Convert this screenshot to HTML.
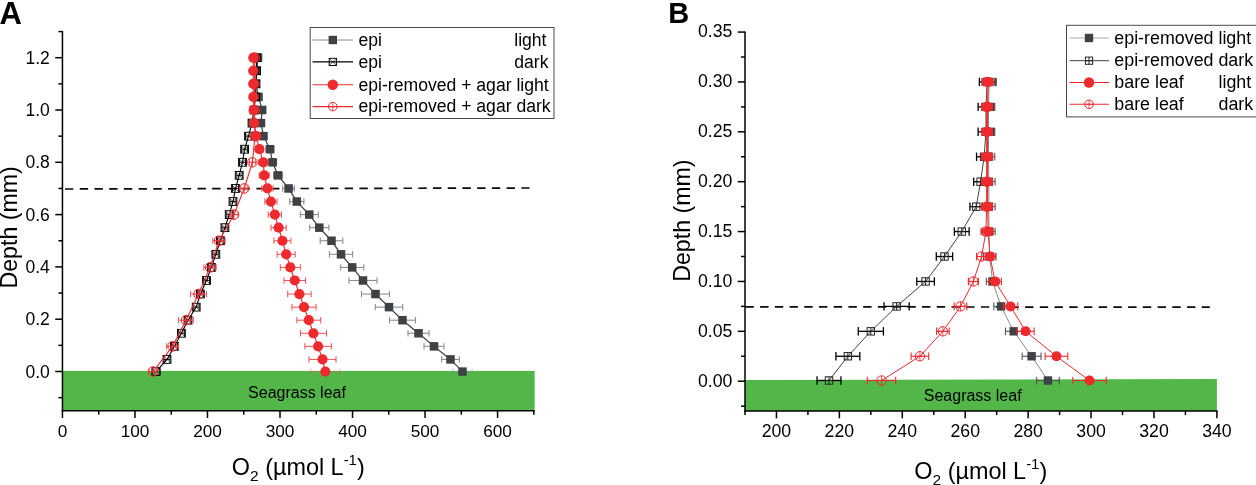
<!DOCTYPE html>
<html><head><meta charset="utf-8"><title>Figure</title>
<style>
html,body{margin:0;padding:0;background:#fff;}
body{width:1256px;height:485px;overflow:hidden;font-family:"Liberation Sans",sans-serif;}
svg{display:block;filter:blur(0.45px);}
</style></head><body>
<svg width="1256" height="485" viewBox="0 0 1256 485">
<rect x="0" y="0" width="1256" height="485" fill="#fff"/>
<rect x="62.45" y="370.90" width="472.18" height="39.83" fill="#52b648"/>
<text x="297.00" y="398.00" font-size="16" text-anchor="middle" font-weight="normal" fill="#000" font-family="Liberation Sans, sans-serif" >Seagrass leaf</text>
<line x1="65.00" y1="189.00" x2="529.60" y2="188.00" stroke="#0a0a0a" stroke-width="1.7" stroke-dasharray="8.4,6.32"/>
<line x1="452.80" y1="371.60" x2="472.20" y2="371.60" stroke="#8c8e90" stroke-width="1.1" opacity="0.45"/>
<line x1="452.80" y1="368.40" x2="452.80" y2="374.80" stroke="#8c8e90" stroke-width="1.1" opacity="0.45"/>
<line x1="472.20" y1="368.40" x2="472.20" y2="374.80" stroke="#8c8e90" stroke-width="1.1" opacity="0.45"/>
<line x1="441.60" y1="359.43" x2="459.40" y2="359.43" stroke="#8c8e90" stroke-width="1.1" />
<line x1="441.60" y1="356.23" x2="441.60" y2="362.62" stroke="#8c8e90" stroke-width="1.1" />
<line x1="459.40" y1="356.23" x2="459.40" y2="362.62" stroke="#8c8e90" stroke-width="1.1" />
<line x1="424.00" y1="346.35" x2="444.00" y2="346.35" stroke="#8c8e90" stroke-width="1.1" />
<line x1="424.00" y1="343.15" x2="424.00" y2="349.55" stroke="#8c8e90" stroke-width="1.1" />
<line x1="444.00" y1="343.15" x2="444.00" y2="349.55" stroke="#8c8e90" stroke-width="1.1" />
<line x1="408.00" y1="333.27" x2="429.00" y2="333.27" stroke="#8c8e90" stroke-width="1.1" />
<line x1="408.00" y1="330.07" x2="408.00" y2="336.47" stroke="#8c8e90" stroke-width="1.1" />
<line x1="429.00" y1="330.07" x2="429.00" y2="336.47" stroke="#8c8e90" stroke-width="1.1" />
<line x1="389.50" y1="320.20" x2="415.50" y2="320.20" stroke="#8c8e90" stroke-width="1.1" />
<line x1="389.50" y1="317.00" x2="389.50" y2="323.40" stroke="#8c8e90" stroke-width="1.1" />
<line x1="415.50" y1="317.00" x2="415.50" y2="323.40" stroke="#8c8e90" stroke-width="1.1" />
<line x1="375.30" y1="307.12" x2="402.70" y2="307.12" stroke="#8c8e90" stroke-width="1.1" />
<line x1="375.30" y1="303.93" x2="375.30" y2="310.32" stroke="#8c8e90" stroke-width="1.1" />
<line x1="402.70" y1="303.93" x2="402.70" y2="310.32" stroke="#8c8e90" stroke-width="1.1" />
<line x1="361.50" y1="294.05" x2="389.50" y2="294.05" stroke="#8c8e90" stroke-width="1.1" />
<line x1="361.50" y1="290.85" x2="361.50" y2="297.25" stroke="#8c8e90" stroke-width="1.1" />
<line x1="389.50" y1="290.85" x2="389.50" y2="297.25" stroke="#8c8e90" stroke-width="1.1" />
<line x1="349.00" y1="280.48" x2="377.00" y2="280.48" stroke="#8c8e90" stroke-width="1.1" />
<line x1="349.00" y1="277.28" x2="349.00" y2="283.68" stroke="#8c8e90" stroke-width="1.1" />
<line x1="377.00" y1="277.28" x2="377.00" y2="283.68" stroke="#8c8e90" stroke-width="1.1" />
<line x1="340.60" y1="267.40" x2="363.80" y2="267.40" stroke="#8c8e90" stroke-width="1.1" />
<line x1="340.60" y1="264.20" x2="340.60" y2="270.60" stroke="#8c8e90" stroke-width="1.1" />
<line x1="363.80" y1="264.20" x2="363.80" y2="270.60" stroke="#8c8e90" stroke-width="1.1" />
<line x1="329.40" y1="254.32" x2="352.60" y2="254.32" stroke="#8c8e90" stroke-width="1.1" />
<line x1="329.40" y1="251.12" x2="329.40" y2="257.52" stroke="#8c8e90" stroke-width="1.1" />
<line x1="352.60" y1="251.12" x2="352.60" y2="257.52" stroke="#8c8e90" stroke-width="1.1" />
<line x1="320.20" y1="240.75" x2="342.80" y2="240.75" stroke="#8c8e90" stroke-width="1.1" />
<line x1="320.20" y1="237.55" x2="320.20" y2="243.95" stroke="#8c8e90" stroke-width="1.1" />
<line x1="342.80" y1="237.55" x2="342.80" y2="243.95" stroke="#8c8e90" stroke-width="1.1" />
<line x1="309.70" y1="227.67" x2="328.90" y2="227.67" stroke="#8c8e90" stroke-width="1.1" />
<line x1="309.70" y1="224.47" x2="309.70" y2="230.87" stroke="#8c8e90" stroke-width="1.1" />
<line x1="328.90" y1="224.47" x2="328.90" y2="230.87" stroke="#8c8e90" stroke-width="1.1" />
<line x1="300.30" y1="214.60" x2="318.30" y2="214.60" stroke="#8c8e90" stroke-width="1.1" />
<line x1="300.30" y1="211.40" x2="300.30" y2="217.80" stroke="#8c8e90" stroke-width="1.1" />
<line x1="318.30" y1="211.40" x2="318.30" y2="217.80" stroke="#8c8e90" stroke-width="1.1" />
<line x1="289.70" y1="201.53" x2="303.90" y2="201.53" stroke="#8c8e90" stroke-width="1.1" />
<line x1="289.70" y1="198.33" x2="289.70" y2="204.72" stroke="#8c8e90" stroke-width="1.1" />
<line x1="303.90" y1="198.33" x2="303.90" y2="204.72" stroke="#8c8e90" stroke-width="1.1" />
<line x1="282.70" y1="188.45" x2="294.50" y2="188.45" stroke="#8c8e90" stroke-width="1.1" />
<line x1="282.70" y1="185.25" x2="282.70" y2="191.65" stroke="#8c8e90" stroke-width="1.1" />
<line x1="294.50" y1="185.25" x2="294.50" y2="191.65" stroke="#8c8e90" stroke-width="1.1" />
<line x1="273.50" y1="175.38" x2="282.50" y2="175.38" stroke="#8c8e90" stroke-width="1.1" />
<line x1="273.50" y1="172.18" x2="273.50" y2="178.57" stroke="#8c8e90" stroke-width="1.1" />
<line x1="282.50" y1="172.18" x2="282.50" y2="178.57" stroke="#8c8e90" stroke-width="1.1" />
<line x1="268.60" y1="162.30" x2="276.60" y2="162.30" stroke="#8c8e90" stroke-width="1.1" />
<line x1="268.60" y1="159.10" x2="268.60" y2="165.50" stroke="#8c8e90" stroke-width="1.1" />
<line x1="276.60" y1="159.10" x2="276.60" y2="165.50" stroke="#8c8e90" stroke-width="1.1" />
<line x1="266.00" y1="149.22" x2="274.00" y2="149.22" stroke="#8c8e90" stroke-width="1.1" />
<line x1="266.00" y1="146.02" x2="266.00" y2="152.42" stroke="#8c8e90" stroke-width="1.1" />
<line x1="274.00" y1="146.02" x2="274.00" y2="152.42" stroke="#8c8e90" stroke-width="1.1" />
<line x1="260.50" y1="136.15" x2="266.50" y2="136.15" stroke="#8c8e90" stroke-width="1.1" />
<line x1="260.50" y1="132.95" x2="260.50" y2="139.35" stroke="#8c8e90" stroke-width="1.1" />
<line x1="266.50" y1="132.95" x2="266.50" y2="139.35" stroke="#8c8e90" stroke-width="1.1" />
<line x1="258.00" y1="123.07" x2="264.00" y2="123.07" stroke="#8c8e90" stroke-width="1.1" />
<line x1="258.00" y1="119.87" x2="258.00" y2="126.27" stroke="#8c8e90" stroke-width="1.1" />
<line x1="264.00" y1="119.87" x2="264.00" y2="126.27" stroke="#8c8e90" stroke-width="1.1" />
<line x1="259.20" y1="110.00" x2="265.20" y2="110.00" stroke="#8c8e90" stroke-width="1.1" />
<line x1="259.20" y1="106.80" x2="259.20" y2="113.20" stroke="#8c8e90" stroke-width="1.1" />
<line x1="265.20" y1="106.80" x2="265.20" y2="113.20" stroke="#8c8e90" stroke-width="1.1" />
<line x1="256.50" y1="96.93" x2="260.50" y2="96.93" stroke="#8c8e90" stroke-width="1.1" />
<line x1="256.50" y1="93.73" x2="256.50" y2="100.13" stroke="#8c8e90" stroke-width="1.1" />
<line x1="260.50" y1="93.73" x2="260.50" y2="100.13" stroke="#8c8e90" stroke-width="1.1" />
<line x1="253.80" y1="83.85" x2="257.80" y2="83.85" stroke="#8c8e90" stroke-width="1.1" />
<line x1="253.80" y1="80.65" x2="253.80" y2="87.05" stroke="#8c8e90" stroke-width="1.1" />
<line x1="257.80" y1="80.65" x2="257.80" y2="87.05" stroke="#8c8e90" stroke-width="1.1" />
<line x1="254.60" y1="70.77" x2="258.60" y2="70.77" stroke="#8c8e90" stroke-width="1.1" />
<line x1="254.60" y1="67.57" x2="254.60" y2="73.97" stroke="#8c8e90" stroke-width="1.1" />
<line x1="258.60" y1="67.57" x2="258.60" y2="73.97" stroke="#8c8e90" stroke-width="1.1" />
<line x1="256.00" y1="57.70" x2="260.00" y2="57.70" stroke="#8c8e90" stroke-width="1.1" />
<line x1="256.00" y1="54.50" x2="256.00" y2="60.90" stroke="#8c8e90" stroke-width="1.1" />
<line x1="260.00" y1="54.50" x2="260.00" y2="60.90" stroke="#8c8e90" stroke-width="1.1" />
<polyline points="462.50,371.60 450.50,359.43 434.00,346.35 418.50,333.27 402.50,320.20 389.00,307.12 375.50,294.05 363.00,280.48 352.20,267.40 341.00,254.32 331.50,240.75 319.30,227.67 309.30,214.60 296.80,201.53 288.60,188.45 278.00,175.38 272.60,162.30 270.00,149.22 263.50,136.15 261.00,123.07 262.20,110.00 258.50,96.93 255.80,83.85 256.60,70.77 258.00,57.70" fill="none" stroke="#3a3a3a" stroke-width="1.2"/>
<rect x="458.25" y="367.35" width="8.5" height="8.5" fill="#3f4245"/>
<rect x="446.25" y="355.18" width="8.5" height="8.5" fill="#3f4245"/>
<rect x="429.75" y="342.10" width="8.5" height="8.5" fill="#3f4245"/>
<rect x="414.25" y="329.02" width="8.5" height="8.5" fill="#3f4245"/>
<rect x="398.25" y="315.95" width="8.5" height="8.5" fill="#3f4245"/>
<rect x="384.75" y="302.88" width="8.5" height="8.5" fill="#3f4245"/>
<rect x="371.25" y="289.80" width="8.5" height="8.5" fill="#3f4245"/>
<rect x="358.75" y="276.23" width="8.5" height="8.5" fill="#3f4245"/>
<rect x="347.95" y="263.15" width="8.5" height="8.5" fill="#3f4245"/>
<rect x="336.75" y="250.07" width="8.5" height="8.5" fill="#3f4245"/>
<rect x="327.25" y="236.50" width="8.5" height="8.5" fill="#3f4245"/>
<rect x="315.05" y="223.42" width="8.5" height="8.5" fill="#3f4245"/>
<rect x="305.05" y="210.35" width="8.5" height="8.5" fill="#3f4245"/>
<rect x="292.55" y="197.28" width="8.5" height="8.5" fill="#3f4245"/>
<rect x="284.35" y="184.20" width="8.5" height="8.5" fill="#3f4245"/>
<rect x="273.75" y="171.12" width="8.5" height="8.5" fill="#3f4245"/>
<rect x="268.35" y="158.05" width="8.5" height="8.5" fill="#3f4245"/>
<rect x="265.75" y="144.97" width="8.5" height="8.5" fill="#3f4245"/>
<rect x="259.25" y="131.90" width="8.5" height="8.5" fill="#3f4245"/>
<rect x="256.75" y="118.82" width="8.5" height="8.5" fill="#3f4245"/>
<rect x="257.95" y="105.75" width="8.5" height="8.5" fill="#3f4245"/>
<rect x="254.25" y="92.68" width="8.5" height="8.5" fill="#3f4245"/>
<rect x="251.55" y="79.60" width="8.5" height="8.5" fill="#3f4245"/>
<rect x="252.35" y="66.52" width="8.5" height="8.5" fill="#3f4245"/>
<rect x="253.75" y="53.45" width="8.5" height="8.5" fill="#3f4245"/>
<line x1="152.00" y1="371.60" x2="160.00" y2="371.60" stroke="#111" stroke-width="1" />
<line x1="152.00" y1="368.40" x2="152.00" y2="374.80" stroke="#111" stroke-width="1" />
<line x1="160.00" y1="368.40" x2="160.00" y2="374.80" stroke="#111" stroke-width="1" />
<line x1="164.00" y1="359.43" x2="170.00" y2="359.43" stroke="#111" stroke-width="1" />
<line x1="164.00" y1="356.23" x2="164.00" y2="362.62" stroke="#111" stroke-width="1" />
<line x1="170.00" y1="356.23" x2="170.00" y2="362.62" stroke="#111" stroke-width="1" />
<line x1="171.50" y1="346.35" x2="177.50" y2="346.35" stroke="#111" stroke-width="1" />
<line x1="171.50" y1="343.15" x2="171.50" y2="349.55" stroke="#111" stroke-width="1" />
<line x1="177.50" y1="343.15" x2="177.50" y2="349.55" stroke="#111" stroke-width="1" />
<line x1="178.40" y1="333.27" x2="184.40" y2="333.27" stroke="#111" stroke-width="1" />
<line x1="178.40" y1="330.07" x2="178.40" y2="336.47" stroke="#111" stroke-width="1" />
<line x1="184.40" y1="330.07" x2="184.40" y2="336.47" stroke="#111" stroke-width="1" />
<line x1="185.00" y1="320.20" x2="191.00" y2="320.20" stroke="#111" stroke-width="1" />
<line x1="185.00" y1="317.00" x2="185.00" y2="323.40" stroke="#111" stroke-width="1" />
<line x1="191.00" y1="317.00" x2="191.00" y2="323.40" stroke="#111" stroke-width="1" />
<line x1="193.20" y1="307.12" x2="199.20" y2="307.12" stroke="#111" stroke-width="1" />
<line x1="193.20" y1="303.93" x2="193.20" y2="310.32" stroke="#111" stroke-width="1" />
<line x1="199.20" y1="303.93" x2="199.20" y2="310.32" stroke="#111" stroke-width="1" />
<line x1="197.40" y1="294.05" x2="203.40" y2="294.05" stroke="#111" stroke-width="1" />
<line x1="197.40" y1="290.85" x2="197.40" y2="297.25" stroke="#111" stroke-width="1" />
<line x1="203.40" y1="290.85" x2="203.40" y2="297.25" stroke="#111" stroke-width="1" />
<line x1="203.50" y1="280.48" x2="209.50" y2="280.48" stroke="#111" stroke-width="1" />
<line x1="203.50" y1="277.28" x2="203.50" y2="283.68" stroke="#111" stroke-width="1" />
<line x1="209.50" y1="277.28" x2="209.50" y2="283.68" stroke="#111" stroke-width="1" />
<line x1="208.30" y1="267.40" x2="214.30" y2="267.40" stroke="#111" stroke-width="1" />
<line x1="208.30" y1="264.20" x2="208.30" y2="270.60" stroke="#111" stroke-width="1" />
<line x1="214.30" y1="264.20" x2="214.30" y2="270.60" stroke="#111" stroke-width="1" />
<line x1="212.80" y1="254.32" x2="218.80" y2="254.32" stroke="#111" stroke-width="1" />
<line x1="212.80" y1="251.12" x2="212.80" y2="257.52" stroke="#111" stroke-width="1" />
<line x1="218.80" y1="251.12" x2="218.80" y2="257.52" stroke="#111" stroke-width="1" />
<line x1="217.40" y1="240.75" x2="223.40" y2="240.75" stroke="#111" stroke-width="1" />
<line x1="217.40" y1="237.55" x2="217.40" y2="243.95" stroke="#111" stroke-width="1" />
<line x1="223.40" y1="237.55" x2="223.40" y2="243.95" stroke="#111" stroke-width="1" />
<line x1="221.90" y1="227.67" x2="227.90" y2="227.67" stroke="#111" stroke-width="1" />
<line x1="221.90" y1="224.47" x2="221.90" y2="230.87" stroke="#111" stroke-width="1" />
<line x1="227.90" y1="224.47" x2="227.90" y2="230.87" stroke="#111" stroke-width="1" />
<line x1="226.20" y1="214.60" x2="232.20" y2="214.60" stroke="#111" stroke-width="1" />
<line x1="226.20" y1="211.40" x2="226.20" y2="217.80" stroke="#111" stroke-width="1" />
<line x1="232.20" y1="211.40" x2="232.20" y2="217.80" stroke="#111" stroke-width="1" />
<line x1="230.00" y1="201.53" x2="236.00" y2="201.53" stroke="#111" stroke-width="1" />
<line x1="230.00" y1="198.33" x2="230.00" y2="204.72" stroke="#111" stroke-width="1" />
<line x1="236.00" y1="198.33" x2="236.00" y2="204.72" stroke="#111" stroke-width="1" />
<line x1="232.50" y1="188.45" x2="238.50" y2="188.45" stroke="#111" stroke-width="1" />
<line x1="232.50" y1="185.25" x2="232.50" y2="191.65" stroke="#111" stroke-width="1" />
<line x1="238.50" y1="185.25" x2="238.50" y2="191.65" stroke="#111" stroke-width="1" />
<line x1="236.20" y1="175.38" x2="242.20" y2="175.38" stroke="#111" stroke-width="1" />
<line x1="236.20" y1="172.18" x2="236.20" y2="178.57" stroke="#111" stroke-width="1" />
<line x1="242.20" y1="172.18" x2="242.20" y2="178.57" stroke="#111" stroke-width="1" />
<line x1="239.50" y1="162.30" x2="245.50" y2="162.30" stroke="#111" stroke-width="1" />
<line x1="239.50" y1="159.10" x2="239.50" y2="165.50" stroke="#111" stroke-width="1" />
<line x1="245.50" y1="159.10" x2="245.50" y2="165.50" stroke="#111" stroke-width="1" />
<line x1="241.60" y1="149.22" x2="247.60" y2="149.22" stroke="#111" stroke-width="1" />
<line x1="241.60" y1="146.02" x2="241.60" y2="152.42" stroke="#111" stroke-width="1" />
<line x1="247.60" y1="146.02" x2="247.60" y2="152.42" stroke="#111" stroke-width="1" />
<line x1="245.50" y1="136.15" x2="251.50" y2="136.15" stroke="#111" stroke-width="1" />
<line x1="245.50" y1="132.95" x2="245.50" y2="139.35" stroke="#111" stroke-width="1" />
<line x1="251.50" y1="132.95" x2="251.50" y2="139.35" stroke="#111" stroke-width="1" />
<line x1="249.00" y1="123.07" x2="255.00" y2="123.07" stroke="#111" stroke-width="1" />
<line x1="249.00" y1="119.87" x2="249.00" y2="126.27" stroke="#111" stroke-width="1" />
<line x1="255.00" y1="119.87" x2="255.00" y2="126.27" stroke="#111" stroke-width="1" />
<line x1="251.00" y1="110.00" x2="257.00" y2="110.00" stroke="#111" stroke-width="1" />
<line x1="251.00" y1="106.80" x2="251.00" y2="113.20" stroke="#111" stroke-width="1" />
<line x1="257.00" y1="106.80" x2="257.00" y2="113.20" stroke="#111" stroke-width="1" />
<line x1="253.50" y1="96.93" x2="257.50" y2="96.93" stroke="#111" stroke-width="1" />
<line x1="253.50" y1="93.73" x2="253.50" y2="100.13" stroke="#111" stroke-width="1" />
<line x1="257.50" y1="93.73" x2="257.50" y2="100.13" stroke="#111" stroke-width="1" />
<line x1="254.00" y1="83.85" x2="258.00" y2="83.85" stroke="#111" stroke-width="1" />
<line x1="254.00" y1="80.65" x2="254.00" y2="87.05" stroke="#111" stroke-width="1" />
<line x1="258.00" y1="80.65" x2="258.00" y2="87.05" stroke="#111" stroke-width="1" />
<line x1="254.50" y1="70.77" x2="258.50" y2="70.77" stroke="#111" stroke-width="1" />
<line x1="254.50" y1="67.57" x2="254.50" y2="73.97" stroke="#111" stroke-width="1" />
<line x1="258.50" y1="67.57" x2="258.50" y2="73.97" stroke="#111" stroke-width="1" />
<line x1="254.50" y1="57.70" x2="258.50" y2="57.70" stroke="#111" stroke-width="1" />
<line x1="254.50" y1="54.50" x2="254.50" y2="60.90" stroke="#111" stroke-width="1" />
<line x1="258.50" y1="54.50" x2="258.50" y2="60.90" stroke="#111" stroke-width="1" />
<polyline points="156.00,371.60 167.00,359.43 174.50,346.35 181.40,333.27 188.00,320.20 196.20,307.12 200.40,294.05 206.50,280.48 211.30,267.40 215.80,254.32 220.40,240.75 224.90,227.67 229.20,214.60 233.00,201.53 235.50,188.45 239.20,175.38 242.50,162.30 244.60,149.22 248.50,136.15 252.00,123.07 254.00,110.00 255.50,96.93 256.00,83.85 256.50,70.77 256.50,57.70" fill="none" stroke="#000" stroke-width="1.1"/>
<g opacity="1"><rect x="152.10" y="367.70" width="7.8" height="7.8" fill="none" stroke="#000" stroke-width="0.95"/>
<line x1="152.10" y1="367.70" x2="159.90" y2="375.50" stroke="#000" stroke-width="0.6" />
<line x1="152.10" y1="375.50" x2="159.90" y2="367.70" stroke="#000" stroke-width="0.6" />
</g>
<g opacity="1"><rect x="163.10" y="355.53" width="7.8" height="7.8" fill="none" stroke="#000" stroke-width="0.95"/>
<line x1="163.10" y1="355.53" x2="170.90" y2="363.32" stroke="#000" stroke-width="0.6" />
<line x1="163.10" y1="363.32" x2="170.90" y2="355.53" stroke="#000" stroke-width="0.6" />
</g>
<g opacity="1"><rect x="170.60" y="342.45" width="7.8" height="7.8" fill="none" stroke="#000" stroke-width="0.95"/>
<line x1="170.60" y1="342.45" x2="178.40" y2="350.25" stroke="#000" stroke-width="0.6" />
<line x1="170.60" y1="350.25" x2="178.40" y2="342.45" stroke="#000" stroke-width="0.6" />
</g>
<g opacity="1"><rect x="177.50" y="329.38" width="7.8" height="7.8" fill="none" stroke="#000" stroke-width="0.95"/>
<line x1="177.50" y1="329.38" x2="185.30" y2="337.17" stroke="#000" stroke-width="0.6" />
<line x1="177.50" y1="337.17" x2="185.30" y2="329.38" stroke="#000" stroke-width="0.6" />
</g>
<g opacity="1"><rect x="184.10" y="316.30" width="7.8" height="7.8" fill="none" stroke="#000" stroke-width="0.95"/>
<line x1="184.10" y1="316.30" x2="191.90" y2="324.10" stroke="#000" stroke-width="0.6" />
<line x1="184.10" y1="324.10" x2="191.90" y2="316.30" stroke="#000" stroke-width="0.6" />
</g>
<g opacity="1"><rect x="192.30" y="303.23" width="7.8" height="7.8" fill="none" stroke="#000" stroke-width="0.95"/>
<line x1="192.30" y1="303.23" x2="200.10" y2="311.02" stroke="#000" stroke-width="0.6" />
<line x1="192.30" y1="311.02" x2="200.10" y2="303.23" stroke="#000" stroke-width="0.6" />
</g>
<g opacity="1"><rect x="196.50" y="290.15" width="7.8" height="7.8" fill="none" stroke="#000" stroke-width="0.95"/>
<line x1="196.50" y1="290.15" x2="204.30" y2="297.95" stroke="#000" stroke-width="0.6" />
<line x1="196.50" y1="297.95" x2="204.30" y2="290.15" stroke="#000" stroke-width="0.6" />
</g>
<g opacity="1"><rect x="202.60" y="276.58" width="7.8" height="7.8" fill="none" stroke="#000" stroke-width="0.95"/>
<line x1="202.60" y1="276.58" x2="210.40" y2="284.38" stroke="#000" stroke-width="0.6" />
<line x1="202.60" y1="284.38" x2="210.40" y2="276.58" stroke="#000" stroke-width="0.6" />
</g>
<g opacity="1"><rect x="207.40" y="263.50" width="7.8" height="7.8" fill="none" stroke="#000" stroke-width="0.95"/>
<line x1="207.40" y1="263.50" x2="215.20" y2="271.30" stroke="#000" stroke-width="0.6" />
<line x1="207.40" y1="271.30" x2="215.20" y2="263.50" stroke="#000" stroke-width="0.6" />
</g>
<g opacity="1"><rect x="211.90" y="250.42" width="7.8" height="7.8" fill="none" stroke="#000" stroke-width="0.95"/>
<line x1="211.90" y1="250.42" x2="219.70" y2="258.22" stroke="#000" stroke-width="0.6" />
<line x1="211.90" y1="258.22" x2="219.70" y2="250.42" stroke="#000" stroke-width="0.6" />
</g>
<g opacity="1"><rect x="216.50" y="236.85" width="7.8" height="7.8" fill="none" stroke="#000" stroke-width="0.95"/>
<line x1="216.50" y1="236.85" x2="224.30" y2="244.65" stroke="#000" stroke-width="0.6" />
<line x1="216.50" y1="244.65" x2="224.30" y2="236.85" stroke="#000" stroke-width="0.6" />
</g>
<g opacity="1"><rect x="221.00" y="223.77" width="7.8" height="7.8" fill="none" stroke="#000" stroke-width="0.95"/>
<line x1="221.00" y1="223.77" x2="228.80" y2="231.57" stroke="#000" stroke-width="0.6" />
<line x1="221.00" y1="231.57" x2="228.80" y2="223.77" stroke="#000" stroke-width="0.6" />
</g>
<g opacity="1"><rect x="225.30" y="210.70" width="7.8" height="7.8" fill="none" stroke="#000" stroke-width="0.95"/>
<line x1="225.30" y1="210.70" x2="233.10" y2="218.50" stroke="#000" stroke-width="0.6" />
<line x1="225.30" y1="218.50" x2="233.10" y2="210.70" stroke="#000" stroke-width="0.6" />
</g>
<g opacity="1"><rect x="229.10" y="197.62" width="7.8" height="7.8" fill="none" stroke="#000" stroke-width="0.95"/>
<line x1="229.10" y1="197.62" x2="236.90" y2="205.43" stroke="#000" stroke-width="0.6" />
<line x1="229.10" y1="205.43" x2="236.90" y2="197.62" stroke="#000" stroke-width="0.6" />
</g>
<g opacity="1"><rect x="231.60" y="184.55" width="7.8" height="7.8" fill="none" stroke="#000" stroke-width="0.95"/>
<line x1="231.60" y1="184.55" x2="239.40" y2="192.35" stroke="#000" stroke-width="0.6" />
<line x1="231.60" y1="192.35" x2="239.40" y2="184.55" stroke="#000" stroke-width="0.6" />
</g>
<g opacity="1"><rect x="235.30" y="171.47" width="7.8" height="7.8" fill="none" stroke="#000" stroke-width="0.95"/>
<line x1="235.30" y1="171.47" x2="243.10" y2="179.28" stroke="#000" stroke-width="0.6" />
<line x1="235.30" y1="179.28" x2="243.10" y2="171.47" stroke="#000" stroke-width="0.6" />
</g>
<g opacity="1"><rect x="238.60" y="158.40" width="7.8" height="7.8" fill="none" stroke="#000" stroke-width="0.95"/>
<line x1="238.60" y1="158.40" x2="246.40" y2="166.20" stroke="#000" stroke-width="0.6" />
<line x1="238.60" y1="166.20" x2="246.40" y2="158.40" stroke="#000" stroke-width="0.6" />
</g>
<g opacity="1"><rect x="240.70" y="145.32" width="7.8" height="7.8" fill="none" stroke="#000" stroke-width="0.95"/>
<line x1="240.70" y1="145.32" x2="248.50" y2="153.12" stroke="#000" stroke-width="0.6" />
<line x1="240.70" y1="153.12" x2="248.50" y2="145.32" stroke="#000" stroke-width="0.6" />
</g>
<g opacity="1"><rect x="244.60" y="132.25" width="7.8" height="7.8" fill="none" stroke="#000" stroke-width="0.95"/>
<line x1="244.60" y1="132.25" x2="252.40" y2="140.05" stroke="#000" stroke-width="0.6" />
<line x1="244.60" y1="140.05" x2="252.40" y2="132.25" stroke="#000" stroke-width="0.6" />
</g>
<g opacity="1"><rect x="248.10" y="119.17" width="7.8" height="7.8" fill="none" stroke="#000" stroke-width="0.95"/>
<line x1="248.10" y1="119.17" x2="255.90" y2="126.97" stroke="#000" stroke-width="0.6" />
<line x1="248.10" y1="126.97" x2="255.90" y2="119.17" stroke="#000" stroke-width="0.6" />
</g>
<g opacity="1"><rect x="250.10" y="106.10" width="7.8" height="7.8" fill="none" stroke="#000" stroke-width="0.95"/>
<line x1="250.10" y1="106.10" x2="257.90" y2="113.90" stroke="#000" stroke-width="0.6" />
<line x1="250.10" y1="113.90" x2="257.90" y2="106.10" stroke="#000" stroke-width="0.6" />
</g>
<g opacity="1"><rect x="251.60" y="93.03" width="7.8" height="7.8" fill="none" stroke="#000" stroke-width="0.95"/>
<line x1="251.60" y1="93.03" x2="259.40" y2="100.83" stroke="#000" stroke-width="0.6" />
<line x1="251.60" y1="100.83" x2="259.40" y2="93.03" stroke="#000" stroke-width="0.6" />
</g>
<g opacity="1"><rect x="252.10" y="79.95" width="7.8" height="7.8" fill="none" stroke="#000" stroke-width="0.95"/>
<line x1="252.10" y1="79.95" x2="259.90" y2="87.75" stroke="#000" stroke-width="0.6" />
<line x1="252.10" y1="87.75" x2="259.90" y2="79.95" stroke="#000" stroke-width="0.6" />
</g>
<g opacity="1"><rect x="252.60" y="66.87" width="7.8" height="7.8" fill="none" stroke="#000" stroke-width="0.95"/>
<line x1="252.60" y1="66.87" x2="260.40" y2="74.67" stroke="#000" stroke-width="0.6" />
<line x1="252.60" y1="74.67" x2="260.40" y2="66.87" stroke="#000" stroke-width="0.6" />
</g>
<g opacity="1"><rect x="252.60" y="53.80" width="7.8" height="7.8" fill="none" stroke="#000" stroke-width="0.95"/>
<line x1="252.60" y1="53.80" x2="260.40" y2="61.60" stroke="#000" stroke-width="0.6" />
<line x1="252.60" y1="61.60" x2="260.40" y2="53.80" stroke="#000" stroke-width="0.6" />
</g>
<line x1="149.00" y1="371.60" x2="157.00" y2="371.60" stroke="#ef5a5e" stroke-width="1" />
<line x1="149.00" y1="368.40" x2="149.00" y2="374.80" stroke="#ef5a5e" stroke-width="1" />
<line x1="157.00" y1="368.40" x2="157.00" y2="374.80" stroke="#ef5a5e" stroke-width="1" />
<line x1="166.40" y1="346.35" x2="178.60" y2="346.35" stroke="#ef5a5e" stroke-width="1" />
<line x1="166.40" y1="343.15" x2="166.40" y2="349.55" stroke="#ef5a5e" stroke-width="1" />
<line x1="178.60" y1="343.15" x2="178.60" y2="349.55" stroke="#ef5a5e" stroke-width="1" />
<line x1="178.60" y1="320.20" x2="193.40" y2="320.20" stroke="#ef5a5e" stroke-width="1" />
<line x1="178.60" y1="317.00" x2="178.60" y2="323.40" stroke="#ef5a5e" stroke-width="1" />
<line x1="193.40" y1="317.00" x2="193.40" y2="323.40" stroke="#ef5a5e" stroke-width="1" />
<line x1="190.50" y1="294.05" x2="206.50" y2="294.05" stroke="#ef5a5e" stroke-width="1" />
<line x1="190.50" y1="290.85" x2="190.50" y2="297.25" stroke="#ef5a5e" stroke-width="1" />
<line x1="206.50" y1="290.85" x2="206.50" y2="297.25" stroke="#ef5a5e" stroke-width="1" />
<line x1="203.80" y1="267.40" x2="216.20" y2="267.40" stroke="#ef5a5e" stroke-width="1" />
<line x1="203.80" y1="264.20" x2="203.80" y2="270.60" stroke="#ef5a5e" stroke-width="1" />
<line x1="216.20" y1="264.20" x2="216.20" y2="270.60" stroke="#ef5a5e" stroke-width="1" />
<line x1="212.80" y1="240.75" x2="225.20" y2="240.75" stroke="#ef5a5e" stroke-width="1" />
<line x1="212.80" y1="237.55" x2="212.80" y2="243.95" stroke="#ef5a5e" stroke-width="1" />
<line x1="225.20" y1="237.55" x2="225.20" y2="243.95" stroke="#ef5a5e" stroke-width="1" />
<line x1="230.00" y1="214.60" x2="238.00" y2="214.60" stroke="#ef5a5e" stroke-width="1" />
<line x1="230.00" y1="211.40" x2="230.00" y2="217.80" stroke="#ef5a5e" stroke-width="1" />
<line x1="238.00" y1="211.40" x2="238.00" y2="217.80" stroke="#ef5a5e" stroke-width="1" />
<line x1="240.70" y1="188.45" x2="247.70" y2="188.45" stroke="#ef5a5e" stroke-width="1" />
<line x1="240.70" y1="185.25" x2="240.70" y2="191.65" stroke="#ef5a5e" stroke-width="1" />
<line x1="247.70" y1="185.25" x2="247.70" y2="191.65" stroke="#ef5a5e" stroke-width="1" />
<line x1="249.40" y1="162.30" x2="255.40" y2="162.30" stroke="#ef5a5e" stroke-width="1" />
<line x1="249.40" y1="159.10" x2="249.40" y2="165.50" stroke="#ef5a5e" stroke-width="1" />
<line x1="255.40" y1="159.10" x2="255.40" y2="165.50" stroke="#ef5a5e" stroke-width="1" />
<line x1="252.00" y1="136.15" x2="258.00" y2="136.15" stroke="#ef5a5e" stroke-width="1" />
<line x1="252.00" y1="132.95" x2="252.00" y2="139.35" stroke="#ef5a5e" stroke-width="1" />
<line x1="258.00" y1="132.95" x2="258.00" y2="139.35" stroke="#ef5a5e" stroke-width="1" />
<line x1="252.50" y1="110.00" x2="256.50" y2="110.00" stroke="#ef5a5e" stroke-width="1" />
<line x1="252.50" y1="106.80" x2="252.50" y2="113.20" stroke="#ef5a5e" stroke-width="1" />
<line x1="256.50" y1="106.80" x2="256.50" y2="113.20" stroke="#ef5a5e" stroke-width="1" />
<line x1="252.50" y1="83.85" x2="256.50" y2="83.85" stroke="#ef5a5e" stroke-width="1" />
<line x1="252.50" y1="80.65" x2="252.50" y2="87.05" stroke="#ef5a5e" stroke-width="1" />
<line x1="256.50" y1="80.65" x2="256.50" y2="87.05" stroke="#ef5a5e" stroke-width="1" />
<line x1="252.80" y1="57.70" x2="256.80" y2="57.70" stroke="#ef5a5e" stroke-width="1" />
<line x1="252.80" y1="54.50" x2="252.80" y2="60.90" stroke="#ef5a5e" stroke-width="1" />
<line x1="256.80" y1="54.50" x2="256.80" y2="60.90" stroke="#ef5a5e" stroke-width="1" />
<polyline points="153.00,371.60 172.50,346.35 186.00,320.20 198.50,294.05 210.00,267.40 219.00,240.75 234.00,214.60 244.20,188.45 252.40,162.30 255.00,136.15 254.50,110.00 254.50,83.85 254.80,57.70" fill="none" stroke="#ee2a2e" stroke-width="1.1"/>
<circle cx="153.00" cy="371.60" r="4.8" fill="none" stroke="#ee2a2e" stroke-width="1"/>
<line x1="148.20" y1="371.60" x2="157.80" y2="371.60" stroke="#ee2a2e" stroke-width="0.8" />
<line x1="153.00" y1="366.80" x2="153.00" y2="376.40" stroke="#ee2a2e" stroke-width="0.8" />
<circle cx="172.50" cy="346.35" r="4.8" fill="none" stroke="#ee2a2e" stroke-width="1"/>
<line x1="167.70" y1="346.35" x2="177.30" y2="346.35" stroke="#ee2a2e" stroke-width="0.8" />
<line x1="172.50" y1="341.55" x2="172.50" y2="351.15" stroke="#ee2a2e" stroke-width="0.8" />
<circle cx="186.00" cy="320.20" r="4.8" fill="none" stroke="#ee2a2e" stroke-width="1"/>
<line x1="181.20" y1="320.20" x2="190.80" y2="320.20" stroke="#ee2a2e" stroke-width="0.8" />
<line x1="186.00" y1="315.40" x2="186.00" y2="325.00" stroke="#ee2a2e" stroke-width="0.8" />
<circle cx="198.50" cy="294.05" r="4.8" fill="none" stroke="#ee2a2e" stroke-width="1"/>
<line x1="193.70" y1="294.05" x2="203.30" y2="294.05" stroke="#ee2a2e" stroke-width="0.8" />
<line x1="198.50" y1="289.25" x2="198.50" y2="298.85" stroke="#ee2a2e" stroke-width="0.8" />
<circle cx="210.00" cy="267.40" r="4.8" fill="none" stroke="#ee2a2e" stroke-width="1"/>
<line x1="205.20" y1="267.40" x2="214.80" y2="267.40" stroke="#ee2a2e" stroke-width="0.8" />
<line x1="210.00" y1="262.60" x2="210.00" y2="272.20" stroke="#ee2a2e" stroke-width="0.8" />
<circle cx="219.00" cy="240.75" r="4.8" fill="none" stroke="#ee2a2e" stroke-width="1"/>
<line x1="214.20" y1="240.75" x2="223.80" y2="240.75" stroke="#ee2a2e" stroke-width="0.8" />
<line x1="219.00" y1="235.95" x2="219.00" y2="245.55" stroke="#ee2a2e" stroke-width="0.8" />
<circle cx="234.00" cy="214.60" r="4.8" fill="none" stroke="#ee2a2e" stroke-width="1"/>
<line x1="229.20" y1="214.60" x2="238.80" y2="214.60" stroke="#ee2a2e" stroke-width="0.8" />
<line x1="234.00" y1="209.80" x2="234.00" y2="219.40" stroke="#ee2a2e" stroke-width="0.8" />
<circle cx="244.20" cy="188.45" r="4.8" fill="none" stroke="#ee2a2e" stroke-width="1"/>
<line x1="239.40" y1="188.45" x2="249.00" y2="188.45" stroke="#ee2a2e" stroke-width="0.8" />
<line x1="244.20" y1="183.65" x2="244.20" y2="193.25" stroke="#ee2a2e" stroke-width="0.8" />
<circle cx="252.40" cy="162.30" r="4.8" fill="none" stroke="#ee2a2e" stroke-width="1"/>
<line x1="247.60" y1="162.30" x2="257.20" y2="162.30" stroke="#ee2a2e" stroke-width="0.8" />
<line x1="252.40" y1="157.50" x2="252.40" y2="167.10" stroke="#ee2a2e" stroke-width="0.8" />
<circle cx="255.00" cy="136.15" r="4.8" fill="none" stroke="#ee2a2e" stroke-width="1"/>
<line x1="250.20" y1="136.15" x2="259.80" y2="136.15" stroke="#ee2a2e" stroke-width="0.8" />
<line x1="255.00" y1="131.35" x2="255.00" y2="140.95" stroke="#ee2a2e" stroke-width="0.8" />
<circle cx="254.50" cy="110.00" r="4.8" fill="none" stroke="#ee2a2e" stroke-width="1"/>
<line x1="249.70" y1="110.00" x2="259.30" y2="110.00" stroke="#ee2a2e" stroke-width="0.8" />
<line x1="254.50" y1="105.20" x2="254.50" y2="114.80" stroke="#ee2a2e" stroke-width="0.8" />
<circle cx="254.50" cy="83.85" r="4.8" fill="none" stroke="#ee2a2e" stroke-width="1"/>
<line x1="249.70" y1="83.85" x2="259.30" y2="83.85" stroke="#ee2a2e" stroke-width="0.8" />
<line x1="254.50" y1="79.05" x2="254.50" y2="88.65" stroke="#ee2a2e" stroke-width="0.8" />
<circle cx="254.80" cy="57.70" r="4.8" fill="none" stroke="#ee2a2e" stroke-width="1"/>
<line x1="250.00" y1="57.70" x2="259.60" y2="57.70" stroke="#ee2a2e" stroke-width="0.8" />
<line x1="254.80" y1="52.90" x2="254.80" y2="62.50" stroke="#ee2a2e" stroke-width="0.8" />
<line x1="310.80" y1="371.60" x2="339.80" y2="371.60" stroke="#ef4f53" stroke-width="1" opacity="0.4"/>
<line x1="310.80" y1="368.40" x2="310.80" y2="374.80" stroke="#ef4f53" stroke-width="1" opacity="0.4"/>
<line x1="339.80" y1="368.40" x2="339.80" y2="374.80" stroke="#ef4f53" stroke-width="1" opacity="0.4"/>
<line x1="309.00" y1="359.43" x2="336.00" y2="359.43" stroke="#ef4f53" stroke-width="1" />
<line x1="309.00" y1="356.23" x2="309.00" y2="362.62" stroke="#ef4f53" stroke-width="1" />
<line x1="336.00" y1="356.23" x2="336.00" y2="362.62" stroke="#ef4f53" stroke-width="1" />
<line x1="304.90" y1="346.35" x2="331.30" y2="346.35" stroke="#ef4f53" stroke-width="1" />
<line x1="304.90" y1="343.15" x2="304.90" y2="349.55" stroke="#ef4f53" stroke-width="1" />
<line x1="331.30" y1="343.15" x2="331.30" y2="349.55" stroke="#ef4f53" stroke-width="1" />
<line x1="300.40" y1="333.27" x2="326.40" y2="333.27" stroke="#ef4f53" stroke-width="1" />
<line x1="300.40" y1="330.07" x2="300.40" y2="336.47" stroke="#ef4f53" stroke-width="1" />
<line x1="326.40" y1="330.07" x2="326.40" y2="336.47" stroke="#ef4f53" stroke-width="1" />
<line x1="296.90" y1="320.20" x2="320.70" y2="320.20" stroke="#ef4f53" stroke-width="1" />
<line x1="296.90" y1="317.00" x2="296.90" y2="323.40" stroke="#ef4f53" stroke-width="1" />
<line x1="320.70" y1="317.00" x2="320.70" y2="323.40" stroke="#ef4f53" stroke-width="1" />
<line x1="291.90" y1="307.12" x2="316.10" y2="307.12" stroke="#ef4f53" stroke-width="1" />
<line x1="291.90" y1="303.93" x2="291.90" y2="310.32" stroke="#ef4f53" stroke-width="1" />
<line x1="316.10" y1="303.93" x2="316.10" y2="310.32" stroke="#ef4f53" stroke-width="1" />
<line x1="287.70" y1="294.05" x2="311.10" y2="294.05" stroke="#ef4f53" stroke-width="1" />
<line x1="287.70" y1="290.85" x2="287.70" y2="297.25" stroke="#ef4f53" stroke-width="1" />
<line x1="311.10" y1="290.85" x2="311.10" y2="297.25" stroke="#ef4f53" stroke-width="1" />
<line x1="284.00" y1="280.48" x2="305.60" y2="280.48" stroke="#ef4f53" stroke-width="1" />
<line x1="284.00" y1="277.28" x2="284.00" y2="283.68" stroke="#ef4f53" stroke-width="1" />
<line x1="305.60" y1="277.28" x2="305.60" y2="283.68" stroke="#ef4f53" stroke-width="1" />
<line x1="280.30" y1="267.40" x2="300.30" y2="267.40" stroke="#ef4f53" stroke-width="1" />
<line x1="280.30" y1="264.20" x2="280.30" y2="270.60" stroke="#ef4f53" stroke-width="1" />
<line x1="300.30" y1="264.20" x2="300.30" y2="270.60" stroke="#ef4f53" stroke-width="1" />
<line x1="277.20" y1="254.32" x2="295.20" y2="254.32" stroke="#ef4f53" stroke-width="1" />
<line x1="277.20" y1="251.12" x2="277.20" y2="257.52" stroke="#ef4f53" stroke-width="1" />
<line x1="295.20" y1="251.12" x2="295.20" y2="257.52" stroke="#ef4f53" stroke-width="1" />
<line x1="273.90" y1="240.75" x2="290.90" y2="240.75" stroke="#ef4f53" stroke-width="1" />
<line x1="273.90" y1="237.55" x2="273.90" y2="243.95" stroke="#ef4f53" stroke-width="1" />
<line x1="290.90" y1="237.55" x2="290.90" y2="243.95" stroke="#ef4f53" stroke-width="1" />
<line x1="271.00" y1="227.67" x2="286.20" y2="227.67" stroke="#ef4f53" stroke-width="1" />
<line x1="271.00" y1="224.47" x2="271.00" y2="230.87" stroke="#ef4f53" stroke-width="1" />
<line x1="286.20" y1="224.47" x2="286.20" y2="230.87" stroke="#ef4f53" stroke-width="1" />
<line x1="268.20" y1="214.60" x2="281.40" y2="214.60" stroke="#ef4f53" stroke-width="1" />
<line x1="268.20" y1="211.40" x2="268.20" y2="217.80" stroke="#ef4f53" stroke-width="1" />
<line x1="281.40" y1="211.40" x2="281.40" y2="217.80" stroke="#ef4f53" stroke-width="1" />
<line x1="264.80" y1="201.53" x2="277.00" y2="201.53" stroke="#ef4f53" stroke-width="1" />
<line x1="264.80" y1="198.33" x2="264.80" y2="204.72" stroke="#ef4f53" stroke-width="1" />
<line x1="277.00" y1="198.33" x2="277.00" y2="204.72" stroke="#ef4f53" stroke-width="1" />
<line x1="261.70" y1="188.45" x2="273.10" y2="188.45" stroke="#ef4f53" stroke-width="1" />
<line x1="261.70" y1="185.25" x2="261.70" y2="191.65" stroke="#ef4f53" stroke-width="1" />
<line x1="273.10" y1="185.25" x2="273.10" y2="191.65" stroke="#ef4f53" stroke-width="1" />
<line x1="259.20" y1="175.38" x2="269.20" y2="175.38" stroke="#ef4f53" stroke-width="1" />
<line x1="259.20" y1="172.18" x2="259.20" y2="178.57" stroke="#ef4f53" stroke-width="1" />
<line x1="269.20" y1="172.18" x2="269.20" y2="178.57" stroke="#ef4f53" stroke-width="1" />
<line x1="258.80" y1="162.30" x2="267.80" y2="162.30" stroke="#ef4f53" stroke-width="1" />
<line x1="258.80" y1="159.10" x2="258.80" y2="165.50" stroke="#ef4f53" stroke-width="1" />
<line x1="267.80" y1="159.10" x2="267.80" y2="165.50" stroke="#ef4f53" stroke-width="1" />
<line x1="255.40" y1="149.22" x2="263.40" y2="149.22" stroke="#ef4f53" stroke-width="1" />
<line x1="255.40" y1="146.02" x2="255.40" y2="152.42" stroke="#ef4f53" stroke-width="1" />
<line x1="263.40" y1="146.02" x2="263.40" y2="152.42" stroke="#ef4f53" stroke-width="1" />
<line x1="253.20" y1="136.15" x2="259.20" y2="136.15" stroke="#ef4f53" stroke-width="1" />
<line x1="253.20" y1="132.95" x2="253.20" y2="139.35" stroke="#ef4f53" stroke-width="1" />
<line x1="259.20" y1="132.95" x2="259.20" y2="139.35" stroke="#ef4f53" stroke-width="1" />
<line x1="251.20" y1="123.07" x2="257.20" y2="123.07" stroke="#ef4f53" stroke-width="1" />
<line x1="251.20" y1="119.87" x2="251.20" y2="126.27" stroke="#ef4f53" stroke-width="1" />
<line x1="257.20" y1="119.87" x2="257.20" y2="126.27" stroke="#ef4f53" stroke-width="1" />
<line x1="250.60" y1="110.00" x2="256.60" y2="110.00" stroke="#ef4f53" stroke-width="1" />
<line x1="250.60" y1="106.80" x2="250.60" y2="113.20" stroke="#ef4f53" stroke-width="1" />
<line x1="256.60" y1="106.80" x2="256.60" y2="113.20" stroke="#ef4f53" stroke-width="1" />
<line x1="251.30" y1="96.93" x2="255.30" y2="96.93" stroke="#ef4f53" stroke-width="1" />
<line x1="251.30" y1="93.73" x2="251.30" y2="100.13" stroke="#ef4f53" stroke-width="1" />
<line x1="255.30" y1="93.73" x2="255.30" y2="100.13" stroke="#ef4f53" stroke-width="1" />
<line x1="251.20" y1="83.85" x2="255.20" y2="83.85" stroke="#ef4f53" stroke-width="1" />
<line x1="251.20" y1="80.65" x2="251.20" y2="87.05" stroke="#ef4f53" stroke-width="1" />
<line x1="255.20" y1="80.65" x2="255.20" y2="87.05" stroke="#ef4f53" stroke-width="1" />
<line x1="251.20" y1="70.77" x2="255.20" y2="70.77" stroke="#ef4f53" stroke-width="1" />
<line x1="251.20" y1="67.57" x2="251.20" y2="73.97" stroke="#ef4f53" stroke-width="1" />
<line x1="255.20" y1="67.57" x2="255.20" y2="73.97" stroke="#ef4f53" stroke-width="1" />
<line x1="251.30" y1="57.70" x2="255.30" y2="57.70" stroke="#ef4f53" stroke-width="1" />
<line x1="251.30" y1="54.50" x2="251.30" y2="60.90" stroke="#ef4f53" stroke-width="1" />
<line x1="255.30" y1="54.50" x2="255.30" y2="60.90" stroke="#ef4f53" stroke-width="1" />
<polyline points="325.30,371.60 322.50,359.43 318.10,346.35 313.40,333.27 308.80,320.20 304.00,307.12 299.40,294.05 294.80,280.48 290.30,267.40 286.20,254.32 282.40,240.75 278.60,227.67 274.80,214.60 270.90,201.53 267.40,188.45 264.20,175.38 263.30,162.30 259.40,149.22 256.20,136.15 254.20,123.07 253.60,110.00 253.30,96.93 253.20,83.85 253.20,70.77 253.30,57.70" fill="none" stroke="#ee2a2e" stroke-width="1.1"/>
<circle cx="325.30" cy="371.60" r="5.1" fill="#ee2a2e"/>
<circle cx="322.50" cy="359.43" r="5.1" fill="#ee2a2e"/>
<circle cx="318.10" cy="346.35" r="5.1" fill="#ee2a2e"/>
<circle cx="313.40" cy="333.27" r="5.1" fill="#ee2a2e"/>
<circle cx="308.80" cy="320.20" r="5.1" fill="#ee2a2e"/>
<circle cx="304.00" cy="307.12" r="5.1" fill="#ee2a2e"/>
<circle cx="299.40" cy="294.05" r="5.1" fill="#ee2a2e"/>
<circle cx="294.80" cy="280.48" r="5.1" fill="#ee2a2e"/>
<circle cx="290.30" cy="267.40" r="5.1" fill="#ee2a2e"/>
<circle cx="286.20" cy="254.32" r="5.1" fill="#ee2a2e"/>
<circle cx="282.40" cy="240.75" r="5.1" fill="#ee2a2e"/>
<circle cx="278.60" cy="227.67" r="5.1" fill="#ee2a2e"/>
<circle cx="274.80" cy="214.60" r="5.1" fill="#ee2a2e"/>
<circle cx="270.90" cy="201.53" r="5.1" fill="#ee2a2e"/>
<circle cx="267.40" cy="188.45" r="5.1" fill="#ee2a2e"/>
<circle cx="264.20" cy="175.38" r="5.1" fill="#ee2a2e"/>
<circle cx="263.30" cy="162.30" r="5.1" fill="#ee2a2e"/>
<circle cx="259.40" cy="149.22" r="5.1" fill="#ee2a2e"/>
<circle cx="256.20" cy="136.15" r="5.1" fill="#ee2a2e"/>
<circle cx="254.20" cy="123.07" r="5.1" fill="#ee2a2e"/>
<circle cx="253.60" cy="110.00" r="5.1" fill="#ee2a2e"/>
<circle cx="253.30" cy="96.93" r="5.1" fill="#ee2a2e"/>
<circle cx="253.20" cy="83.85" r="5.1" fill="#ee2a2e"/>
<circle cx="253.20" cy="70.77" r="5.1" fill="#ee2a2e"/>
<circle cx="253.30" cy="57.70" r="5.1" fill="#ee2a2e"/>
<line x1="62.45" y1="31.05" x2="62.45" y2="411.48" stroke="#000" stroke-width="1.5" />
<line x1="61.70" y1="410.73" x2="534.58" y2="410.73" stroke="#000" stroke-width="1.5" />
<line x1="55.25" y1="371.50" x2="62.45" y2="371.50" stroke="#000" stroke-width="1.5" />
<text x="49.85" y="377.50" font-size="17.5" text-anchor="end" font-weight="normal" fill="#000" font-family="Liberation Sans, sans-serif" >0.0</text>
<line x1="55.25" y1="319.20" x2="62.45" y2="319.20" stroke="#000" stroke-width="1.5" />
<text x="49.85" y="325.20" font-size="17.5" text-anchor="end" font-weight="normal" fill="#000" font-family="Liberation Sans, sans-serif" >0.2</text>
<line x1="55.25" y1="266.90" x2="62.45" y2="266.90" stroke="#000" stroke-width="1.5" />
<text x="49.85" y="272.90" font-size="17.5" text-anchor="end" font-weight="normal" fill="#000" font-family="Liberation Sans, sans-serif" >0.4</text>
<line x1="55.25" y1="214.60" x2="62.45" y2="214.60" stroke="#000" stroke-width="1.5" />
<text x="49.85" y="220.60" font-size="17.5" text-anchor="end" font-weight="normal" fill="#000" font-family="Liberation Sans, sans-serif" >0.6</text>
<line x1="55.25" y1="162.30" x2="62.45" y2="162.30" stroke="#000" stroke-width="1.5" />
<text x="49.85" y="168.30" font-size="17.5" text-anchor="end" font-weight="normal" fill="#000" font-family="Liberation Sans, sans-serif" >0.8</text>
<line x1="55.25" y1="110.00" x2="62.45" y2="110.00" stroke="#000" stroke-width="1.5" />
<text x="49.85" y="116.00" font-size="17.5" text-anchor="end" font-weight="normal" fill="#000" font-family="Liberation Sans, sans-serif" >1.0</text>
<line x1="55.25" y1="57.70" x2="62.45" y2="57.70" stroke="#000" stroke-width="1.5" />
<text x="49.85" y="63.70" font-size="17.5" text-anchor="end" font-weight="normal" fill="#000" font-family="Liberation Sans, sans-serif" >1.2</text>
<line x1="58.45" y1="397.65" x2="62.45" y2="397.65" stroke="#000" stroke-width="1.5" />
<line x1="58.45" y1="345.35" x2="62.45" y2="345.35" stroke="#000" stroke-width="1.5" />
<line x1="58.45" y1="293.05" x2="62.45" y2="293.05" stroke="#000" stroke-width="1.5" />
<line x1="58.45" y1="240.75" x2="62.45" y2="240.75" stroke="#000" stroke-width="1.5" />
<line x1="58.45" y1="188.45" x2="62.45" y2="188.45" stroke="#000" stroke-width="1.5" />
<line x1="58.45" y1="136.15" x2="62.45" y2="136.15" stroke="#000" stroke-width="1.5" />
<line x1="58.45" y1="83.85" x2="62.45" y2="83.85" stroke="#000" stroke-width="1.5" />
<line x1="58.45" y1="31.55" x2="62.45" y2="31.55" stroke="#000" stroke-width="1.5" />
<line x1="62.45" y1="410.73" x2="62.45" y2="417.93" stroke="#000" stroke-width="1.5" />
<text x="62.45" y="437.00" font-size="17.2" text-anchor="middle" font-weight="normal" fill="#000" font-family="Liberation Sans, sans-serif" >0</text>
<line x1="134.97" y1="410.73" x2="134.97" y2="417.93" stroke="#000" stroke-width="1.5" />
<text x="134.97" y="437.00" font-size="17.2" text-anchor="middle" font-weight="normal" fill="#000" font-family="Liberation Sans, sans-serif" >100</text>
<line x1="207.49" y1="410.73" x2="207.49" y2="417.93" stroke="#000" stroke-width="1.5" />
<text x="207.49" y="437.00" font-size="17.2" text-anchor="middle" font-weight="normal" fill="#000" font-family="Liberation Sans, sans-serif" >200</text>
<line x1="280.01" y1="410.73" x2="280.01" y2="417.93" stroke="#000" stroke-width="1.5" />
<text x="280.01" y="437.00" font-size="17.2" text-anchor="middle" font-weight="normal" fill="#000" font-family="Liberation Sans, sans-serif" >300</text>
<line x1="352.53" y1="410.73" x2="352.53" y2="417.93" stroke="#000" stroke-width="1.5" />
<text x="352.53" y="437.00" font-size="17.2" text-anchor="middle" font-weight="normal" fill="#000" font-family="Liberation Sans, sans-serif" >400</text>
<line x1="425.05" y1="410.73" x2="425.05" y2="417.93" stroke="#000" stroke-width="1.5" />
<text x="425.05" y="437.00" font-size="17.2" text-anchor="middle" font-weight="normal" fill="#000" font-family="Liberation Sans, sans-serif" >500</text>
<line x1="497.57" y1="410.73" x2="497.57" y2="417.93" stroke="#000" stroke-width="1.5" />
<text x="497.57" y="437.00" font-size="17.2" text-anchor="middle" font-weight="normal" fill="#000" font-family="Liberation Sans, sans-serif" >600</text>
<line x1="98.71" y1="410.73" x2="98.71" y2="414.73" stroke="#000" stroke-width="1.5" />
<line x1="171.23" y1="410.73" x2="171.23" y2="414.73" stroke="#000" stroke-width="1.5" />
<line x1="243.75" y1="410.73" x2="243.75" y2="414.73" stroke="#000" stroke-width="1.5" />
<line x1="316.27" y1="410.73" x2="316.27" y2="414.73" stroke="#000" stroke-width="1.5" />
<line x1="388.79" y1="410.73" x2="388.79" y2="414.73" stroke="#000" stroke-width="1.5" />
<line x1="461.31" y1="410.73" x2="461.31" y2="414.73" stroke="#000" stroke-width="1.5" />
<line x1="533.83" y1="410.73" x2="533.83" y2="414.73" stroke="#000" stroke-width="1.5" />
<text transform="translate(17.4,227.4) rotate(-90)" font-size="23.2" text-anchor="middle" font-family="Liberation Sans, sans-serif">Depth (mm)</text>
<text x="298.3" y="475" font-size="23.4" text-anchor="middle" font-family="Liberation Sans, sans-serif">O<tspan font-size="15.5" dy="6">2</tspan><tspan dy="-6"> (µmol L</tspan><tspan font-size="15" dy="-10">-1</tspan><tspan dy="10">)</tspan></text>
<text x="-0.60" y="24.20" font-size="31" text-anchor="start" font-weight="bold" fill="#000" font-family="Liberation Sans, sans-serif" >A</text>
<rect x="310.2" y="27.5" width="243.8" height="91" fill="#fff" stroke="#4a4a4a" stroke-width="1"/>
<line x1="312.50" y1="40.00" x2="353.00" y2="40.00" stroke="#888" stroke-width="1" />
<rect x="328.60" y="35.80" width="8.4" height="8.4" fill="#3f4245"/>
<line x1="312.50" y1="61.90" x2="353.00" y2="61.90" stroke="#000" stroke-width="1.3" />
<g opacity="1"><rect x="329.20" y="58.30" width="7.2" height="7.2" fill="none" stroke="#000" stroke-width="0.95"/>
<line x1="329.20" y1="58.30" x2="336.40" y2="65.50" stroke="#000" stroke-width="0.6" />
<line x1="329.20" y1="65.50" x2="336.40" y2="58.30" stroke="#000" stroke-width="0.6" />
</g>
<line x1="312.50" y1="84.80" x2="353.00" y2="84.80" stroke="#ee2a2e" stroke-width="1.1" />
<circle cx="332.80" cy="84.80" r="5.2" fill="#ee2a2e"/>
<line x1="312.50" y1="106.60" x2="353.00" y2="106.60" stroke="#ee2a2e" stroke-width="1.1" />
<circle cx="332.80" cy="106.60" r="4.3" fill="none" stroke="#ee2a2e" stroke-width="1"/>
<line x1="328.50" y1="106.60" x2="337.10" y2="106.60" stroke="#ee2a2e" stroke-width="0.8" />
<line x1="332.80" y1="102.30" x2="332.80" y2="110.90" stroke="#ee2a2e" stroke-width="0.8" />
<text x="358.50" y="45.70" font-size="17.6" text-anchor="start" font-weight="normal" fill="#000" font-family="Liberation Sans, sans-serif" >epi</text>
<text x="546.50" y="45.70" font-size="17.6" text-anchor="end" font-weight="normal" fill="#000" font-family="Liberation Sans, sans-serif" >light</text>
<text x="358.50" y="67.60" font-size="17.6" text-anchor="start" font-weight="normal" fill="#000" font-family="Liberation Sans, sans-serif" >epi</text>
<text x="548.50" y="67.60" font-size="17.6" text-anchor="end" font-weight="normal" fill="#000" font-family="Liberation Sans, sans-serif" >dark</text>
<text x="358.50" y="90.50" font-size="17.6" text-anchor="start" font-weight="normal" fill="#000" font-family="Liberation Sans, sans-serif" >epi-removed + agar light</text>
<text x="358.50" y="112.30" font-size="17.6" text-anchor="start" font-weight="normal" fill="#000" font-family="Liberation Sans, sans-serif" >epi-removed + agar dark</text>
<polygon points="745.00,380.10 1216.90,379.10 1216.90,411.12 745.00,411.12" fill="#52b648"/>
<text x="972.70" y="401.00" font-size="16" text-anchor="middle" font-weight="normal" fill="#000" font-family="Liberation Sans, sans-serif" >Seagrass leaf</text>
<line x1="745.40" y1="306.80" x2="1209.80" y2="307.20" stroke="#0a0a0a" stroke-width="1.7" stroke-dasharray="8.4,6.32"/>
<line x1="817.04" y1="380.50" x2="840.95" y2="380.50" stroke="#000" stroke-width="1.3" />
<line x1="817.04" y1="376.30" x2="817.04" y2="384.70" stroke="#000" stroke-width="1.3" />
<line x1="840.95" y1="376.30" x2="840.95" y2="384.70" stroke="#000" stroke-width="1.3" />
<line x1="835.92" y1="356.26" x2="859.83" y2="356.26" stroke="#000" stroke-width="1.3" />
<line x1="835.92" y1="352.06" x2="835.92" y2="360.46" stroke="#000" stroke-width="1.3" />
<line x1="859.83" y1="352.06" x2="859.83" y2="360.46" stroke="#000" stroke-width="1.3" />
<line x1="858.26" y1="331.32" x2="883.42" y2="331.32" stroke="#000" stroke-width="1.3" />
<line x1="858.26" y1="327.12" x2="858.26" y2="335.52" stroke="#000" stroke-width="1.3" />
<line x1="883.42" y1="327.12" x2="883.42" y2="335.52" stroke="#000" stroke-width="1.3" />
<line x1="884.05" y1="306.39" x2="909.22" y2="306.39" stroke="#000" stroke-width="1.3" />
<line x1="884.05" y1="302.19" x2="884.05" y2="310.59" stroke="#000" stroke-width="1.3" />
<line x1="909.22" y1="302.19" x2="909.22" y2="310.59" stroke="#000" stroke-width="1.3" />
<line x1="916.77" y1="281.45" x2="934.39" y2="281.45" stroke="#000" stroke-width="1.3" />
<line x1="916.77" y1="277.25" x2="916.77" y2="285.65" stroke="#000" stroke-width="1.3" />
<line x1="934.39" y1="277.25" x2="934.39" y2="285.65" stroke="#000" stroke-width="1.3" />
<line x1="936.28" y1="256.51" x2="952.64" y2="256.51" stroke="#000" stroke-width="1.3" />
<line x1="936.28" y1="252.31" x2="936.28" y2="260.71" stroke="#000" stroke-width="1.3" />
<line x1="952.64" y1="252.31" x2="952.64" y2="260.71" stroke="#000" stroke-width="1.3" />
<line x1="954.37" y1="231.57" x2="969.15" y2="231.57" stroke="#000" stroke-width="1.3" />
<line x1="954.37" y1="227.37" x2="954.37" y2="235.77" stroke="#000" stroke-width="1.3" />
<line x1="969.15" y1="227.37" x2="969.15" y2="235.77" stroke="#000" stroke-width="1.3" />
<line x1="969.94" y1="206.64" x2="982.52" y2="206.64" stroke="#000" stroke-width="1.3" />
<line x1="969.94" y1="202.44" x2="969.94" y2="210.84" stroke="#000" stroke-width="1.3" />
<line x1="982.52" y1="202.44" x2="982.52" y2="210.84" stroke="#000" stroke-width="1.3" />
<line x1="973.71" y1="181.70" x2="987.56" y2="181.70" stroke="#000" stroke-width="1.3" />
<line x1="973.71" y1="177.50" x2="973.71" y2="185.90" stroke="#000" stroke-width="1.3" />
<line x1="987.56" y1="177.50" x2="987.56" y2="185.90" stroke="#000" stroke-width="1.3" />
<line x1="976.55" y1="156.76" x2="991.65" y2="156.76" stroke="#000" stroke-width="1.3" />
<line x1="976.55" y1="152.56" x2="976.55" y2="160.96" stroke="#000" stroke-width="1.3" />
<line x1="991.65" y1="152.56" x2="991.65" y2="160.96" stroke="#000" stroke-width="1.3" />
<line x1="978.12" y1="131.82" x2="993.85" y2="131.82" stroke="#000" stroke-width="1.3" />
<line x1="978.12" y1="127.62" x2="978.12" y2="136.02" stroke="#000" stroke-width="1.3" />
<line x1="993.85" y1="127.62" x2="993.85" y2="136.02" stroke="#000" stroke-width="1.3" />
<line x1="978.12" y1="106.89" x2="993.85" y2="106.89" stroke="#000" stroke-width="1.3" />
<line x1="978.12" y1="102.69" x2="978.12" y2="111.09" stroke="#000" stroke-width="1.3" />
<line x1="993.85" y1="102.69" x2="993.85" y2="111.09" stroke="#000" stroke-width="1.3" />
<line x1="979.38" y1="81.95" x2="995.11" y2="81.95" stroke="#000" stroke-width="1.3" />
<line x1="979.38" y1="77.75" x2="979.38" y2="86.15" stroke="#000" stroke-width="1.3" />
<line x1="995.11" y1="77.75" x2="995.11" y2="86.15" stroke="#000" stroke-width="1.3" />
<polyline points="829.00,380.50 847.87,356.26 870.84,331.32 896.64,306.39 925.58,281.45 944.46,256.51 961.76,231.57 976.23,206.64 980.64,181.70 984.10,156.76 985.98,131.82 985.98,106.89 987.24,81.95" fill="none" stroke="#444" stroke-width="1"/>
<rect x="825.30" y="376.80" width="7.4" height="7.4" fill="none" stroke="#222" stroke-width="1"/>
<line x1="825.30" y1="380.50" x2="832.70" y2="380.50" stroke="#222" stroke-width="1" />
<line x1="829.00" y1="376.80" x2="829.00" y2="384.20" stroke="#222" stroke-width="1" />
<rect x="844.17" y="352.56" width="7.4" height="7.4" fill="none" stroke="#222" stroke-width="1"/>
<line x1="844.17" y1="356.26" x2="851.57" y2="356.26" stroke="#222" stroke-width="1" />
<line x1="847.87" y1="352.56" x2="847.87" y2="359.96" stroke="#222" stroke-width="1" />
<rect x="867.14" y="327.62" width="7.4" height="7.4" fill="none" stroke="#222" stroke-width="1"/>
<line x1="867.14" y1="331.32" x2="874.54" y2="331.32" stroke="#222" stroke-width="1" />
<line x1="870.84" y1="327.62" x2="870.84" y2="335.02" stroke="#222" stroke-width="1" />
<rect x="892.94" y="302.69" width="7.4" height="7.4" fill="none" stroke="#222" stroke-width="1"/>
<line x1="892.94" y1="306.39" x2="900.34" y2="306.39" stroke="#222" stroke-width="1" />
<line x1="896.64" y1="302.69" x2="896.64" y2="310.09" stroke="#222" stroke-width="1" />
<rect x="921.88" y="277.75" width="7.4" height="7.4" fill="none" stroke="#222" stroke-width="1"/>
<line x1="921.88" y1="281.45" x2="929.28" y2="281.45" stroke="#222" stroke-width="1" />
<line x1="925.58" y1="277.75" x2="925.58" y2="285.15" stroke="#222" stroke-width="1" />
<rect x="940.76" y="252.81" width="7.4" height="7.4" fill="none" stroke="#222" stroke-width="1"/>
<line x1="940.76" y1="256.51" x2="948.16" y2="256.51" stroke="#222" stroke-width="1" />
<line x1="944.46" y1="252.81" x2="944.46" y2="260.21" stroke="#222" stroke-width="1" />
<rect x="958.06" y="227.87" width="7.4" height="7.4" fill="none" stroke="#222" stroke-width="1"/>
<line x1="958.06" y1="231.57" x2="965.46" y2="231.57" stroke="#222" stroke-width="1" />
<line x1="961.76" y1="227.87" x2="961.76" y2="235.27" stroke="#222" stroke-width="1" />
<rect x="972.53" y="202.94" width="7.4" height="7.4" fill="none" stroke="#222" stroke-width="1"/>
<line x1="972.53" y1="206.64" x2="979.93" y2="206.64" stroke="#222" stroke-width="1" />
<line x1="976.23" y1="202.94" x2="976.23" y2="210.34" stroke="#222" stroke-width="1" />
<rect x="976.94" y="178.00" width="7.4" height="7.4" fill="none" stroke="#222" stroke-width="1"/>
<line x1="976.94" y1="181.70" x2="984.34" y2="181.70" stroke="#222" stroke-width="1" />
<line x1="980.64" y1="178.00" x2="980.64" y2="185.40" stroke="#222" stroke-width="1" />
<rect x="980.40" y="153.06" width="7.4" height="7.4" fill="none" stroke="#222" stroke-width="1"/>
<line x1="980.40" y1="156.76" x2="987.80" y2="156.76" stroke="#222" stroke-width="1" />
<line x1="984.10" y1="153.06" x2="984.10" y2="160.46" stroke="#222" stroke-width="1" />
<rect x="982.28" y="128.12" width="7.4" height="7.4" fill="none" stroke="#222" stroke-width="1"/>
<line x1="982.28" y1="131.82" x2="989.68" y2="131.82" stroke="#222" stroke-width="1" />
<line x1="985.98" y1="128.12" x2="985.98" y2="135.52" stroke="#222" stroke-width="1" />
<rect x="982.28" y="103.19" width="7.4" height="7.4" fill="none" stroke="#222" stroke-width="1"/>
<line x1="982.28" y1="106.89" x2="989.68" y2="106.89" stroke="#222" stroke-width="1" />
<line x1="985.98" y1="103.19" x2="985.98" y2="110.59" stroke="#222" stroke-width="1" />
<rect x="983.54" y="78.25" width="7.4" height="7.4" fill="none" stroke="#222" stroke-width="1"/>
<line x1="983.54" y1="81.95" x2="990.94" y2="81.95" stroke="#222" stroke-width="1" />
<line x1="987.24" y1="78.25" x2="987.24" y2="85.65" stroke="#222" stroke-width="1" />
<line x1="1036.63" y1="380.50" x2="1059.29" y2="380.50" stroke="#555" stroke-width="1.1" />
<line x1="1036.63" y1="376.70" x2="1036.63" y2="384.30" stroke="#555" stroke-width="1.1" />
<line x1="1059.29" y1="376.70" x2="1059.29" y2="384.30" stroke="#555" stroke-width="1.1" />
<line x1="1022.16" y1="356.26" x2="1041.04" y2="356.26" stroke="#555" stroke-width="1.1" />
<line x1="1022.16" y1="352.46" x2="1022.16" y2="360.06" stroke="#555" stroke-width="1.1" />
<line x1="1041.04" y1="352.46" x2="1041.04" y2="360.06" stroke="#555" stroke-width="1.1" />
<line x1="1005.49" y1="331.32" x2="1021.85" y2="331.32" stroke="#555" stroke-width="1.1" />
<line x1="1005.49" y1="327.52" x2="1005.49" y2="335.12" stroke="#555" stroke-width="1.1" />
<line x1="1021.85" y1="327.52" x2="1021.85" y2="335.12" stroke="#555" stroke-width="1.1" />
<line x1="993.85" y1="306.39" x2="1008.32" y2="306.39" stroke="#555" stroke-width="1.1" />
<line x1="993.85" y1="302.59" x2="993.85" y2="310.19" stroke="#555" stroke-width="1.1" />
<line x1="1008.32" y1="302.59" x2="1008.32" y2="310.19" stroke="#555" stroke-width="1.1" />
<line x1="986.30" y1="281.45" x2="998.88" y2="281.45" stroke="#555" stroke-width="1.1" />
<line x1="986.30" y1="277.65" x2="986.30" y2="285.25" stroke="#555" stroke-width="1.1" />
<line x1="998.88" y1="277.65" x2="998.88" y2="285.25" stroke="#555" stroke-width="1.1" />
<line x1="983.47" y1="256.51" x2="996.05" y2="256.51" stroke="#555" stroke-width="1.1" />
<line x1="983.47" y1="252.71" x2="983.47" y2="260.31" stroke="#555" stroke-width="1.1" />
<line x1="996.05" y1="252.71" x2="996.05" y2="260.31" stroke="#555" stroke-width="1.1" />
<line x1="982.52" y1="231.57" x2="995.11" y2="231.57" stroke="#555" stroke-width="1.1" />
<line x1="982.52" y1="227.77" x2="982.52" y2="235.37" stroke="#555" stroke-width="1.1" />
<line x1="995.11" y1="227.77" x2="995.11" y2="235.37" stroke="#555" stroke-width="1.1" />
<line x1="982.52" y1="206.64" x2="995.11" y2="206.64" stroke="#555" stroke-width="1.1" />
<line x1="982.52" y1="202.84" x2="982.52" y2="210.44" stroke="#555" stroke-width="1.1" />
<line x1="995.11" y1="202.84" x2="995.11" y2="210.44" stroke="#555" stroke-width="1.1" />
<line x1="982.52" y1="181.70" x2="995.11" y2="181.70" stroke="#555" stroke-width="1.1" />
<line x1="982.52" y1="177.90" x2="982.52" y2="185.50" stroke="#555" stroke-width="1.1" />
<line x1="995.11" y1="177.90" x2="995.11" y2="185.50" stroke="#555" stroke-width="1.1" />
<line x1="982.21" y1="156.76" x2="994.79" y2="156.76" stroke="#555" stroke-width="1.1" />
<line x1="982.21" y1="152.96" x2="982.21" y2="160.56" stroke="#555" stroke-width="1.1" />
<line x1="994.79" y1="152.96" x2="994.79" y2="160.56" stroke="#555" stroke-width="1.1" />
<line x1="982.21" y1="131.82" x2="994.79" y2="131.82" stroke="#555" stroke-width="1.1" />
<line x1="982.21" y1="128.02" x2="982.21" y2="135.62" stroke="#555" stroke-width="1.1" />
<line x1="994.79" y1="128.02" x2="994.79" y2="135.62" stroke="#555" stroke-width="1.1" />
<line x1="982.21" y1="106.89" x2="994.79" y2="106.89" stroke="#555" stroke-width="1.1" />
<line x1="982.21" y1="103.09" x2="982.21" y2="110.69" stroke="#555" stroke-width="1.1" />
<line x1="994.79" y1="103.09" x2="994.79" y2="110.69" stroke="#555" stroke-width="1.1" />
<line x1="981.89" y1="81.95" x2="996.37" y2="81.95" stroke="#555" stroke-width="1.1" />
<line x1="981.89" y1="78.15" x2="981.89" y2="85.75" stroke="#555" stroke-width="1.1" />
<line x1="996.37" y1="78.15" x2="996.37" y2="85.75" stroke="#555" stroke-width="1.1" />
<polyline points="1047.96,380.50 1031.60,356.26 1013.67,331.32 1001.08,306.39 992.59,281.45 989.76,256.51 988.82,231.57 988.82,206.64 988.82,181.70 988.50,156.76 988.50,131.82 988.50,106.89 989.13,81.95" fill="none" stroke="#888" stroke-width="1"/>
<rect x="1043.76" y="376.30" width="8.4" height="8.4" fill="#3f4245"/>
<rect x="1027.40" y="352.06" width="8.4" height="8.4" fill="#3f4245"/>
<rect x="1009.47" y="327.12" width="8.4" height="8.4" fill="#3f4245"/>
<rect x="996.88" y="302.19" width="8.4" height="8.4" fill="#3f4245"/>
<rect x="988.39" y="277.25" width="8.4" height="8.4" fill="#3f4245"/>
<rect x="985.56" y="252.31" width="8.4" height="8.4" fill="#3f4245"/>
<rect x="984.62" y="227.37" width="8.4" height="8.4" fill="#3f4245"/>
<rect x="984.62" y="202.44" width="8.4" height="8.4" fill="#3f4245"/>
<rect x="984.62" y="177.50" width="8.4" height="8.4" fill="#3f4245"/>
<rect x="984.30" y="152.56" width="8.4" height="8.4" fill="#3f4245"/>
<rect x="984.30" y="127.62" width="8.4" height="8.4" fill="#3f4245"/>
<rect x="984.30" y="102.69" width="8.4" height="8.4" fill="#3f4245"/>
<rect x="984.93" y="77.75" width="8.4" height="8.4" fill="#3f4245"/>
<line x1="867.38" y1="380.50" x2="895.69" y2="380.50" stroke="#ee2a2e" stroke-width="1.1" />
<line x1="867.38" y1="376.70" x2="867.38" y2="384.30" stroke="#ee2a2e" stroke-width="1.1" />
<line x1="895.69" y1="376.70" x2="895.69" y2="384.30" stroke="#ee2a2e" stroke-width="1.1" />
<line x1="911.11" y1="356.26" x2="928.73" y2="356.26" stroke="#ee2a2e" stroke-width="1.1" />
<line x1="911.11" y1="352.46" x2="911.11" y2="360.06" stroke="#ee2a2e" stroke-width="1.1" />
<line x1="928.73" y1="352.46" x2="928.73" y2="360.06" stroke="#ee2a2e" stroke-width="1.1" />
<line x1="936.59" y1="331.32" x2="949.18" y2="331.32" stroke="#ee2a2e" stroke-width="1.1" />
<line x1="936.59" y1="327.52" x2="936.59" y2="335.12" stroke="#ee2a2e" stroke-width="1.1" />
<line x1="949.18" y1="327.52" x2="949.18" y2="335.12" stroke="#ee2a2e" stroke-width="1.1" />
<line x1="954.21" y1="306.39" x2="966.79" y2="306.39" stroke="#ee2a2e" stroke-width="1.1" />
<line x1="954.21" y1="302.59" x2="954.21" y2="310.19" stroke="#ee2a2e" stroke-width="1.1" />
<line x1="966.79" y1="302.59" x2="966.79" y2="310.19" stroke="#ee2a2e" stroke-width="1.1" />
<line x1="968.37" y1="281.45" x2="978.43" y2="281.45" stroke="#ee2a2e" stroke-width="1.1" />
<line x1="968.37" y1="277.65" x2="968.37" y2="285.25" stroke="#ee2a2e" stroke-width="1.1" />
<line x1="978.43" y1="277.65" x2="978.43" y2="285.25" stroke="#ee2a2e" stroke-width="1.1" />
<line x1="976.55" y1="256.51" x2="986.61" y2="256.51" stroke="#ee2a2e" stroke-width="1.1" />
<line x1="976.55" y1="252.71" x2="976.55" y2="260.31" stroke="#ee2a2e" stroke-width="1.1" />
<line x1="986.61" y1="252.71" x2="986.61" y2="260.31" stroke="#ee2a2e" stroke-width="1.1" />
<line x1="980.95" y1="231.57" x2="991.02" y2="231.57" stroke="#ee2a2e" stroke-width="1.1" />
<line x1="980.95" y1="227.77" x2="980.95" y2="235.37" stroke="#ee2a2e" stroke-width="1.1" />
<line x1="991.02" y1="227.77" x2="991.02" y2="235.37" stroke="#ee2a2e" stroke-width="1.1" />
<line x1="981.58" y1="206.64" x2="991.65" y2="206.64" stroke="#ee2a2e" stroke-width="1.1" />
<line x1="981.58" y1="202.84" x2="981.58" y2="210.44" stroke="#ee2a2e" stroke-width="1.1" />
<line x1="991.65" y1="202.84" x2="991.65" y2="210.44" stroke="#ee2a2e" stroke-width="1.1" />
<line x1="981.58" y1="181.70" x2="991.65" y2="181.70" stroke="#ee2a2e" stroke-width="1.1" />
<line x1="981.58" y1="177.90" x2="981.58" y2="185.50" stroke="#ee2a2e" stroke-width="1.1" />
<line x1="991.65" y1="177.90" x2="991.65" y2="185.50" stroke="#ee2a2e" stroke-width="1.1" />
<line x1="981.58" y1="156.76" x2="991.65" y2="156.76" stroke="#ee2a2e" stroke-width="1.1" />
<line x1="981.58" y1="152.96" x2="981.58" y2="160.56" stroke="#ee2a2e" stroke-width="1.1" />
<line x1="991.65" y1="152.96" x2="991.65" y2="160.56" stroke="#ee2a2e" stroke-width="1.1" />
<line x1="981.58" y1="131.82" x2="991.65" y2="131.82" stroke="#ee2a2e" stroke-width="1.1" />
<line x1="981.58" y1="128.02" x2="981.58" y2="135.62" stroke="#ee2a2e" stroke-width="1.1" />
<line x1="991.65" y1="128.02" x2="991.65" y2="135.62" stroke="#ee2a2e" stroke-width="1.1" />
<line x1="981.58" y1="106.89" x2="991.65" y2="106.89" stroke="#ee2a2e" stroke-width="1.1" />
<line x1="981.58" y1="103.09" x2="981.58" y2="110.69" stroke="#ee2a2e" stroke-width="1.1" />
<line x1="991.65" y1="103.09" x2="991.65" y2="110.69" stroke="#ee2a2e" stroke-width="1.1" />
<line x1="982.21" y1="81.95" x2="992.28" y2="81.95" stroke="#ee2a2e" stroke-width="1.1" />
<line x1="982.21" y1="78.15" x2="982.21" y2="85.75" stroke="#ee2a2e" stroke-width="1.1" />
<line x1="992.28" y1="78.15" x2="992.28" y2="85.75" stroke="#ee2a2e" stroke-width="1.1" />
<polyline points="881.54,380.50 919.92,356.26 942.88,331.32 960.50,306.39 973.40,281.45 981.58,256.51 985.98,231.57 986.61,206.64 986.61,181.70 986.61,156.76 986.61,131.82 986.61,106.89 987.24,81.95" fill="none" stroke="#ee2a2e" stroke-width="1"/>
<circle cx="881.54" cy="380.50" r="4.7" fill="none" stroke="#ee2a2e" stroke-width="1"/>
<line x1="876.84" y1="380.50" x2="886.24" y2="380.50" stroke="#ee2a2e" stroke-width="0.8" />
<line x1="881.54" y1="375.80" x2="881.54" y2="385.20" stroke="#ee2a2e" stroke-width="0.8" />
<circle cx="919.92" cy="356.26" r="4.7" fill="none" stroke="#ee2a2e" stroke-width="1"/>
<line x1="915.22" y1="356.26" x2="924.62" y2="356.26" stroke="#ee2a2e" stroke-width="0.8" />
<line x1="919.92" y1="351.56" x2="919.92" y2="360.96" stroke="#ee2a2e" stroke-width="0.8" />
<circle cx="942.88" cy="331.32" r="4.7" fill="none" stroke="#ee2a2e" stroke-width="1"/>
<line x1="938.18" y1="331.32" x2="947.58" y2="331.32" stroke="#ee2a2e" stroke-width="0.8" />
<line x1="942.88" y1="326.62" x2="942.88" y2="336.02" stroke="#ee2a2e" stroke-width="0.8" />
<circle cx="960.50" cy="306.39" r="4.7" fill="none" stroke="#ee2a2e" stroke-width="1"/>
<line x1="955.80" y1="306.39" x2="965.20" y2="306.39" stroke="#ee2a2e" stroke-width="0.8" />
<line x1="960.50" y1="301.69" x2="960.50" y2="311.09" stroke="#ee2a2e" stroke-width="0.8" />
<circle cx="973.40" cy="281.45" r="4.7" fill="none" stroke="#ee2a2e" stroke-width="1"/>
<line x1="968.70" y1="281.45" x2="978.10" y2="281.45" stroke="#ee2a2e" stroke-width="0.8" />
<line x1="973.40" y1="276.75" x2="973.40" y2="286.15" stroke="#ee2a2e" stroke-width="0.8" />
<circle cx="981.58" cy="256.51" r="4.7" fill="none" stroke="#ee2a2e" stroke-width="1"/>
<line x1="976.88" y1="256.51" x2="986.28" y2="256.51" stroke="#ee2a2e" stroke-width="0.8" />
<line x1="981.58" y1="251.81" x2="981.58" y2="261.21" stroke="#ee2a2e" stroke-width="0.8" />
<circle cx="985.98" cy="231.57" r="4.7" fill="none" stroke="#ee2a2e" stroke-width="1"/>
<line x1="981.28" y1="231.57" x2="990.68" y2="231.57" stroke="#ee2a2e" stroke-width="0.8" />
<line x1="985.98" y1="226.87" x2="985.98" y2="236.27" stroke="#ee2a2e" stroke-width="0.8" />
<circle cx="986.61" cy="206.64" r="4.7" fill="none" stroke="#ee2a2e" stroke-width="1"/>
<line x1="981.91" y1="206.64" x2="991.31" y2="206.64" stroke="#ee2a2e" stroke-width="0.8" />
<line x1="986.61" y1="201.94" x2="986.61" y2="211.34" stroke="#ee2a2e" stroke-width="0.8" />
<circle cx="986.61" cy="181.70" r="4.7" fill="none" stroke="#ee2a2e" stroke-width="1"/>
<line x1="981.91" y1="181.70" x2="991.31" y2="181.70" stroke="#ee2a2e" stroke-width="0.8" />
<line x1="986.61" y1="177.00" x2="986.61" y2="186.40" stroke="#ee2a2e" stroke-width="0.8" />
<circle cx="986.61" cy="156.76" r="4.7" fill="none" stroke="#ee2a2e" stroke-width="1"/>
<line x1="981.91" y1="156.76" x2="991.31" y2="156.76" stroke="#ee2a2e" stroke-width="0.8" />
<line x1="986.61" y1="152.06" x2="986.61" y2="161.46" stroke="#ee2a2e" stroke-width="0.8" />
<circle cx="986.61" cy="131.82" r="4.7" fill="none" stroke="#ee2a2e" stroke-width="1"/>
<line x1="981.91" y1="131.82" x2="991.31" y2="131.82" stroke="#ee2a2e" stroke-width="0.8" />
<line x1="986.61" y1="127.12" x2="986.61" y2="136.52" stroke="#ee2a2e" stroke-width="0.8" />
<circle cx="986.61" cy="106.89" r="4.7" fill="none" stroke="#ee2a2e" stroke-width="1"/>
<line x1="981.91" y1="106.89" x2="991.31" y2="106.89" stroke="#ee2a2e" stroke-width="0.8" />
<line x1="986.61" y1="102.19" x2="986.61" y2="111.59" stroke="#ee2a2e" stroke-width="0.8" />
<circle cx="987.24" cy="81.95" r="4.7" fill="none" stroke="#ee2a2e" stroke-width="1"/>
<line x1="982.54" y1="81.95" x2="991.94" y2="81.95" stroke="#ee2a2e" stroke-width="0.8" />
<line x1="987.24" y1="77.25" x2="987.24" y2="86.65" stroke="#ee2a2e" stroke-width="0.8" />
<line x1="1072.81" y1="380.50" x2="1106.16" y2="380.50" stroke="#ee2a2e" stroke-width="1.1" />
<line x1="1072.81" y1="376.70" x2="1072.81" y2="384.30" stroke="#ee2a2e" stroke-width="1.1" />
<line x1="1106.16" y1="376.70" x2="1106.16" y2="384.30" stroke="#ee2a2e" stroke-width="1.1" />
<line x1="1045.13" y1="356.26" x2="1067.78" y2="356.26" stroke="#ee2a2e" stroke-width="1.1" />
<line x1="1045.13" y1="352.46" x2="1045.13" y2="360.06" stroke="#ee2a2e" stroke-width="1.1" />
<line x1="1067.78" y1="352.46" x2="1067.78" y2="360.06" stroke="#ee2a2e" stroke-width="1.1" />
<line x1="1017.13" y1="331.32" x2="1034.12" y2="331.32" stroke="#ee2a2e" stroke-width="1.1" />
<line x1="1017.13" y1="327.52" x2="1017.13" y2="335.12" stroke="#ee2a2e" stroke-width="1.1" />
<line x1="1034.12" y1="327.52" x2="1034.12" y2="335.12" stroke="#ee2a2e" stroke-width="1.1" />
<line x1="1003.29" y1="306.39" x2="1017.76" y2="306.39" stroke="#ee2a2e" stroke-width="1.1" />
<line x1="1003.29" y1="302.59" x2="1003.29" y2="310.19" stroke="#ee2a2e" stroke-width="1.1" />
<line x1="1017.76" y1="302.59" x2="1017.76" y2="310.19" stroke="#ee2a2e" stroke-width="1.1" />
<line x1="988.81" y1="281.45" x2="1001.40" y2="281.45" stroke="#ee2a2e" stroke-width="1.1" />
<line x1="988.81" y1="277.65" x2="988.81" y2="285.25" stroke="#ee2a2e" stroke-width="1.1" />
<line x1="1001.40" y1="277.65" x2="1001.40" y2="285.25" stroke="#ee2a2e" stroke-width="1.1" />
<line x1="985.04" y1="256.51" x2="995.11" y2="256.51" stroke="#ee2a2e" stroke-width="1.1" />
<line x1="985.04" y1="252.71" x2="985.04" y2="260.31" stroke="#ee2a2e" stroke-width="1.1" />
<line x1="995.11" y1="252.71" x2="995.11" y2="260.31" stroke="#ee2a2e" stroke-width="1.1" />
<line x1="983.15" y1="231.57" x2="993.22" y2="231.57" stroke="#ee2a2e" stroke-width="1.1" />
<line x1="983.15" y1="227.77" x2="983.15" y2="235.37" stroke="#ee2a2e" stroke-width="1.1" />
<line x1="993.22" y1="227.77" x2="993.22" y2="235.37" stroke="#ee2a2e" stroke-width="1.1" />
<line x1="982.52" y1="206.64" x2="992.59" y2="206.64" stroke="#ee2a2e" stroke-width="1.1" />
<line x1="982.52" y1="202.84" x2="982.52" y2="210.44" stroke="#ee2a2e" stroke-width="1.1" />
<line x1="992.59" y1="202.84" x2="992.59" y2="210.44" stroke="#ee2a2e" stroke-width="1.1" />
<line x1="982.52" y1="181.70" x2="992.59" y2="181.70" stroke="#ee2a2e" stroke-width="1.1" />
<line x1="982.52" y1="177.90" x2="982.52" y2="185.50" stroke="#ee2a2e" stroke-width="1.1" />
<line x1="992.59" y1="177.90" x2="992.59" y2="185.50" stroke="#ee2a2e" stroke-width="1.1" />
<line x1="982.52" y1="156.76" x2="992.59" y2="156.76" stroke="#ee2a2e" stroke-width="1.1" />
<line x1="982.52" y1="152.96" x2="982.52" y2="160.56" stroke="#ee2a2e" stroke-width="1.1" />
<line x1="992.59" y1="152.96" x2="992.59" y2="160.56" stroke="#ee2a2e" stroke-width="1.1" />
<line x1="982.52" y1="131.82" x2="992.59" y2="131.82" stroke="#ee2a2e" stroke-width="1.1" />
<line x1="982.52" y1="128.02" x2="982.52" y2="135.62" stroke="#ee2a2e" stroke-width="1.1" />
<line x1="992.59" y1="128.02" x2="992.59" y2="135.62" stroke="#ee2a2e" stroke-width="1.1" />
<line x1="982.52" y1="106.89" x2="992.59" y2="106.89" stroke="#ee2a2e" stroke-width="1.1" />
<line x1="982.52" y1="103.09" x2="982.52" y2="110.69" stroke="#ee2a2e" stroke-width="1.1" />
<line x1="992.59" y1="103.09" x2="992.59" y2="110.69" stroke="#ee2a2e" stroke-width="1.1" />
<line x1="983.15" y1="81.95" x2="993.22" y2="81.95" stroke="#ee2a2e" stroke-width="1.1" />
<line x1="983.15" y1="78.15" x2="983.15" y2="85.75" stroke="#ee2a2e" stroke-width="1.1" />
<line x1="993.22" y1="78.15" x2="993.22" y2="85.75" stroke="#ee2a2e" stroke-width="1.1" />
<polyline points="1089.49,380.50 1056.45,356.26 1025.62,331.32 1010.52,306.39 995.11,281.45 990.07,256.51 988.19,231.57 987.56,206.64 987.56,181.70 987.56,156.76 987.56,131.82 987.56,106.89 988.19,81.95" fill="none" stroke="#ee2a2e" stroke-width="1"/>
<circle cx="1089.49" cy="380.50" r="5.0" fill="#ee2a2e"/>
<circle cx="1056.45" cy="356.26" r="5.0" fill="#ee2a2e"/>
<circle cx="1025.62" cy="331.32" r="5.0" fill="#ee2a2e"/>
<circle cx="1010.52" cy="306.39" r="5.0" fill="#ee2a2e"/>
<circle cx="995.11" cy="281.45" r="5.0" fill="#ee2a2e"/>
<circle cx="990.07" cy="256.51" r="5.0" fill="#ee2a2e"/>
<circle cx="988.19" cy="231.57" r="5.0" fill="#ee2a2e"/>
<circle cx="987.56" cy="206.64" r="5.0" fill="#ee2a2e"/>
<circle cx="987.56" cy="181.70" r="5.0" fill="#ee2a2e"/>
<circle cx="987.56" cy="156.76" r="5.0" fill="#ee2a2e"/>
<circle cx="987.56" cy="131.82" r="5.0" fill="#ee2a2e"/>
<circle cx="987.56" cy="106.89" r="5.0" fill="#ee2a2e"/>
<circle cx="988.19" cy="81.95" r="5.0" fill="#ee2a2e"/>
<line x1="745.00" y1="31.57" x2="745.00" y2="411.88" stroke="#000" stroke-width="1.5" />
<line x1="744.25" y1="411.12" x2="1217.65" y2="411.12" stroke="#000" stroke-width="1.5" />
<line x1="737.80" y1="381.20" x2="745.00" y2="381.20" stroke="#000" stroke-width="1.5" />
<text x="732.40" y="386.60" font-size="17.7" text-anchor="end" font-weight="normal" fill="#000" font-family="Liberation Sans, sans-serif" >0.00</text>
<line x1="737.80" y1="331.32" x2="745.00" y2="331.32" stroke="#000" stroke-width="1.5" />
<text x="732.40" y="336.72" font-size="17.7" text-anchor="end" font-weight="normal" fill="#000" font-family="Liberation Sans, sans-serif" >0.05</text>
<line x1="737.80" y1="281.45" x2="745.00" y2="281.45" stroke="#000" stroke-width="1.5" />
<text x="732.40" y="286.85" font-size="17.7" text-anchor="end" font-weight="normal" fill="#000" font-family="Liberation Sans, sans-serif" >0.10</text>
<line x1="737.80" y1="231.57" x2="745.00" y2="231.57" stroke="#000" stroke-width="1.5" />
<text x="732.40" y="236.97" font-size="17.7" text-anchor="end" font-weight="normal" fill="#000" font-family="Liberation Sans, sans-serif" >0.15</text>
<line x1="737.80" y1="181.70" x2="745.00" y2="181.70" stroke="#000" stroke-width="1.5" />
<text x="732.40" y="187.10" font-size="17.7" text-anchor="end" font-weight="normal" fill="#000" font-family="Liberation Sans, sans-serif" >0.20</text>
<line x1="737.80" y1="131.82" x2="745.00" y2="131.82" stroke="#000" stroke-width="1.5" />
<text x="732.40" y="137.22" font-size="17.7" text-anchor="end" font-weight="normal" fill="#000" font-family="Liberation Sans, sans-serif" >0.25</text>
<line x1="737.80" y1="81.95" x2="745.00" y2="81.95" stroke="#000" stroke-width="1.5" />
<text x="732.40" y="87.35" font-size="17.7" text-anchor="end" font-weight="normal" fill="#000" font-family="Liberation Sans, sans-serif" >0.30</text>
<line x1="737.80" y1="32.07" x2="745.00" y2="32.07" stroke="#000" stroke-width="1.5" />
<text x="732.40" y="37.47" font-size="17.7" text-anchor="end" font-weight="normal" fill="#000" font-family="Liberation Sans, sans-serif" >0.35</text>
<line x1="741.00" y1="406.14" x2="745.00" y2="406.14" stroke="#000" stroke-width="1.5" />
<line x1="741.00" y1="356.26" x2="745.00" y2="356.26" stroke="#000" stroke-width="1.5" />
<line x1="741.00" y1="306.39" x2="745.00" y2="306.39" stroke="#000" stroke-width="1.5" />
<line x1="741.00" y1="256.51" x2="745.00" y2="256.51" stroke="#000" stroke-width="1.5" />
<line x1="741.00" y1="206.64" x2="745.00" y2="206.64" stroke="#000" stroke-width="1.5" />
<line x1="741.00" y1="156.76" x2="745.00" y2="156.76" stroke="#000" stroke-width="1.5" />
<line x1="741.00" y1="106.89" x2="745.00" y2="106.89" stroke="#000" stroke-width="1.5" />
<line x1="741.00" y1="57.01" x2="745.00" y2="57.01" stroke="#000" stroke-width="1.5" />
<line x1="776.46" y1="411.12" x2="776.46" y2="418.32" stroke="#000" stroke-width="1.5" />
<text x="776.46" y="437.40" font-size="17.7" text-anchor="middle" font-weight="normal" fill="#000" font-family="Liberation Sans, sans-serif" >200</text>
<line x1="839.38" y1="411.12" x2="839.38" y2="418.32" stroke="#000" stroke-width="1.5" />
<text x="839.38" y="437.40" font-size="17.7" text-anchor="middle" font-weight="normal" fill="#000" font-family="Liberation Sans, sans-serif" >220</text>
<line x1="902.30" y1="411.12" x2="902.30" y2="418.32" stroke="#000" stroke-width="1.5" />
<text x="902.30" y="437.40" font-size="17.7" text-anchor="middle" font-weight="normal" fill="#000" font-family="Liberation Sans, sans-serif" >240</text>
<line x1="965.22" y1="411.12" x2="965.22" y2="418.32" stroke="#000" stroke-width="1.5" />
<text x="965.22" y="437.40" font-size="17.7" text-anchor="middle" font-weight="normal" fill="#000" font-family="Liberation Sans, sans-serif" >260</text>
<line x1="1028.14" y1="411.12" x2="1028.14" y2="418.32" stroke="#000" stroke-width="1.5" />
<text x="1028.14" y="437.40" font-size="17.7" text-anchor="middle" font-weight="normal" fill="#000" font-family="Liberation Sans, sans-serif" >280</text>
<line x1="1091.06" y1="411.12" x2="1091.06" y2="418.32" stroke="#000" stroke-width="1.5" />
<text x="1091.06" y="437.40" font-size="17.7" text-anchor="middle" font-weight="normal" fill="#000" font-family="Liberation Sans, sans-serif" >300</text>
<line x1="1153.98" y1="411.12" x2="1153.98" y2="418.32" stroke="#000" stroke-width="1.5" />
<text x="1153.98" y="437.40" font-size="17.7" text-anchor="middle" font-weight="normal" fill="#000" font-family="Liberation Sans, sans-serif" >320</text>
<line x1="1216.90" y1="411.12" x2="1216.90" y2="418.32" stroke="#000" stroke-width="1.5" />
<text x="1216.90" y="437.40" font-size="17.7" text-anchor="middle" font-weight="normal" fill="#000" font-family="Liberation Sans, sans-serif" >340</text>
<line x1="745.00" y1="411.12" x2="745.00" y2="415.12" stroke="#000" stroke-width="1.5" />
<line x1="807.92" y1="411.12" x2="807.92" y2="415.12" stroke="#000" stroke-width="1.5" />
<line x1="870.84" y1="411.12" x2="870.84" y2="415.12" stroke="#000" stroke-width="1.5" />
<line x1="933.76" y1="411.12" x2="933.76" y2="415.12" stroke="#000" stroke-width="1.5" />
<line x1="996.68" y1="411.12" x2="996.68" y2="415.12" stroke="#000" stroke-width="1.5" />
<line x1="1059.60" y1="411.12" x2="1059.60" y2="415.12" stroke="#000" stroke-width="1.5" />
<line x1="1122.52" y1="411.12" x2="1122.52" y2="415.12" stroke="#000" stroke-width="1.5" />
<line x1="1185.44" y1="411.12" x2="1185.44" y2="415.12" stroke="#000" stroke-width="1.5" />
<text transform="translate(689.7,220.6) rotate(-90)" font-size="23.2" text-anchor="middle" font-family="Liberation Sans, sans-serif">Depth (mm)</text>
<text x="980.8" y="478.5" font-size="23.4" text-anchor="middle" font-family="Liberation Sans, sans-serif">O<tspan font-size="15.5" dy="6">2</tspan><tspan dy="-6"> (µmol L</tspan><tspan font-size="15" dy="-10">-1</tspan><tspan dy="10">)</tspan></text>
<text x="668.20" y="23.30" font-size="29" text-anchor="start" font-weight="bold" fill="#000" font-family="Liberation Sans, sans-serif" >B</text>
<rect x="1066.5" y="25.3" width="200" height="91.6" fill="#fff" stroke="#4a4a4a" stroke-width="1"/>
<line x1="1069.50" y1="38.00" x2="1109.00" y2="38.00" stroke="#aaa" stroke-width="1" />
<rect x="1084.80" y="33.80" width="8.4" height="8.4" fill="#3f4245"/>
<line x1="1069.50" y1="60.70" x2="1109.00" y2="60.70" stroke="#444" stroke-width="1" />
<rect x="1085.40" y="57.10" width="7.2" height="7.2" fill="none" stroke="#222" stroke-width="1"/>
<line x1="1085.40" y1="60.70" x2="1092.60" y2="60.70" stroke="#222" stroke-width="1" />
<line x1="1089.00" y1="57.10" x2="1089.00" y2="64.30" stroke="#222" stroke-width="1" />
<line x1="1069.50" y1="82.50" x2="1109.00" y2="82.50" stroke="#ee2a2e" stroke-width="1.1" />
<circle cx="1089.00" cy="82.50" r="5.2" fill="#ee2a2e"/>
<line x1="1069.50" y1="104.30" x2="1109.00" y2="104.30" stroke="#ee2a2e" stroke-width="1.1" />
<circle cx="1089.00" cy="104.30" r="4.3" fill="none" stroke="#ee2a2e" stroke-width="1"/>
<line x1="1084.70" y1="104.30" x2="1093.30" y2="104.30" stroke="#ee2a2e" stroke-width="0.8" />
<line x1="1089.00" y1="100.00" x2="1089.00" y2="108.60" stroke="#ee2a2e" stroke-width="0.8" />
<text x="1114.30" y="43.70" font-size="17.85" text-anchor="start" font-weight="normal" fill="#000" font-family="Liberation Sans, sans-serif" >epi-removed light</text>
<text x="1114.30" y="66.40" font-size="17.85" text-anchor="start" font-weight="normal" fill="#000" font-family="Liberation Sans, sans-serif" >epi-removed dark</text>
<text x="1114.30" y="88.20" font-size="17.85" text-anchor="start" font-weight="normal" fill="#000" font-family="Liberation Sans, sans-serif" >bare leaf</text>
<text x="1218.50" y="88.20" font-size="17.85" text-anchor="start" font-weight="normal" fill="#000" font-family="Liberation Sans, sans-serif" >light</text>
<text x="1114.30" y="110.00" font-size="17.85" text-anchor="start" font-weight="normal" fill="#000" font-family="Liberation Sans, sans-serif" >bare leaf</text>
<text x="1218.50" y="110.00" font-size="17.85" text-anchor="start" font-weight="normal" fill="#000" font-family="Liberation Sans, sans-serif" >dark</text>
</svg>
</body></html>
